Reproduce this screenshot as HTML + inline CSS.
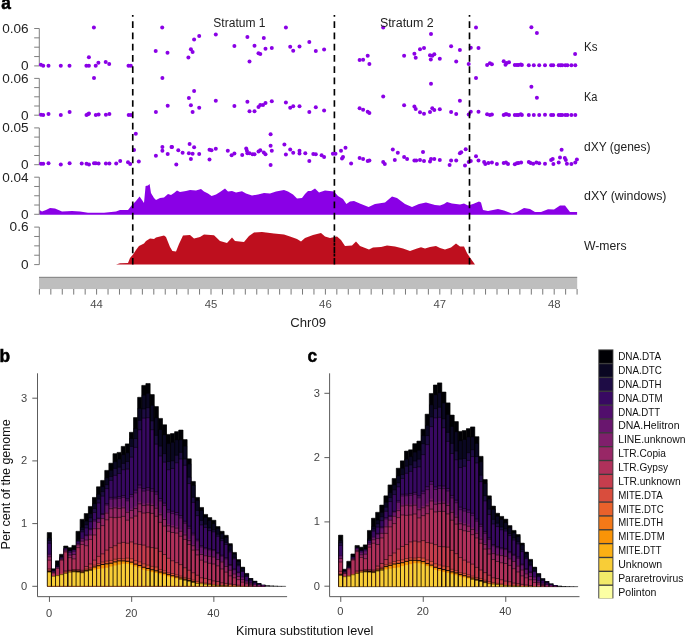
<!DOCTYPE html>
<html><head><meta charset="utf-8"><title>Figure</title>
<style>
html,body{margin:0;padding:0;background:#fff;}
body{width:685px;height:636px;overflow:hidden;}
svg{display:block;}
text{font-family:"Liberation Sans",sans-serif;}
svg{will-change:transform;}
</style></head><body>
<svg width="685" height="636" viewBox="0 0 685 636">
<rect width="685" height="636" fill="#fff"/>
<text x="1.2" y="9.3" font-size="17.5" text-anchor="start" fill="#000" font-weight="bold" textLength="9.6" lengthAdjust="spacingAndGlyphs" stroke="#000" stroke-width="0.5">a</text>
<path d="M39.4,214.7L39.4,210L42,211.6L46,210L50,208L55,208.4L62,211.6L72,211L80,211.4L88,212.8L104,212.8L116,211.4L120,210L128,210L132,205L136,201L139.6,196.4L142,200L144,203L145.6,186L148,185.6L149.6,184L151,193L154,198L156,200L160,198L164,197.6L168,194L171,195L174,193L177,190.4L180,192L186,191L190,190L196,190.4L201,189L204,191.6L208,193.6L211.6,196L216,194.4L220,192L225,188.4L228,191.6L232,191L236,192.6L242,191.2L246,193.6L252,195.6L258,194.4L264,193L270,193.6L276,191.6L284,190L288,191.6L293,194.4L297,198.6L302,198L305,194L308,191L311,191L315,188.4L319,192.4L325,190.4L334,191.4L338,196L343,199L346.4,204L350,201.6L354,201L361,204L368.6,207L375,204L385,202.6L392,196.4L397,198L405,204L412,207L419,204L426,202.4L435,205L440,205.6L444,204L447,202L452,203.6L460,204.4L464,203.4L468,205.6L473,204L479,201.6L481,202.4L483,210L488,211L498,209L504,210.4L512,213.6L517,212L524,208L530,209L535,212L541,212L548,209.2L554,209.6L560,205.4L565,205.4L570,212L577.1,212L577.1,214.7Z" fill="#8a00e6"/>
<path d="M116,264.6L116,264.4L120,263.2L128,263L130,258L133,254.4L136,250L139,246L144,243.6L146,241L150,238.6L154,239L156,237.6L160,236.4L164,235.4L166,237L168,242L170,247L172.4,251L176,251.4L179,244L183,235.6L190,235L194,238.4L200,237L204,234.4L214,235.2L220,241L227,243L232,237.6L235,241L244,242L249,236L254,232.4L262,232L274,233.6L284,234.4L290,236.4L297,239L301,241.4L305,238L313,235L321,233L325,236.4L330,238L337,236.4L341,240L345,246L352,245.4L356,241.6L360,246L369,249.6L373,247.6L381,247L387,245.4L395,246.4L403,248.4L410,251L417,248.4L421,247.2L425,248.6L430,247L436,246L440,248L445,249.6L451,247.6L456,243.6L460,246.4L464,246.4L467,253L470,257.6L475,264.4L475,264.6Z" fill="#be0f1e"/>
<path d="M39.3,28.5V65.9M34.2,28.50H39.3M34.2,37.85H39.3M34.2,47.20H39.3M34.2,56.55H39.3M34.2,65.90H39.3" stroke="#787878" stroke-width="0.95" fill="none"/>
<text x="28.6" y="32.8" font-size="12" text-anchor="end" fill="#222" textLength="26.4" lengthAdjust="spacingAndGlyphs">0.06</text>
<text x="28.6" y="70.2" font-size="12" text-anchor="end" fill="#222" textLength="7.6" lengthAdjust="spacingAndGlyphs">0</text>
<path d="M39.3,78.4V115.2M34.2,78.40H39.3M34.2,87.60H39.3M34.2,96.80H39.3M34.2,106.00H39.3M34.2,115.20H39.3" stroke="#787878" stroke-width="0.95" fill="none"/>
<text x="28.6" y="82.7" font-size="12" text-anchor="end" fill="#222" textLength="26.4" lengthAdjust="spacingAndGlyphs">0.06</text>
<text x="28.6" y="119.5" font-size="12" text-anchor="end" fill="#222" textLength="7.6" lengthAdjust="spacingAndGlyphs">0</text>
<path d="M39.3,127.9V164.7M34.2,127.90H39.3M34.2,137.10H39.3M34.2,146.30H39.3M34.2,155.50H39.3M34.2,164.70H39.3" stroke="#787878" stroke-width="0.95" fill="none"/>
<text x="28.6" y="132.20000000000002" font-size="12" text-anchor="end" fill="#222" textLength="26.4" lengthAdjust="spacingAndGlyphs">0.05</text>
<text x="28.6" y="169.0" font-size="12" text-anchor="end" fill="#222" textLength="7.6" lengthAdjust="spacingAndGlyphs">0</text>
<path d="M39.3,177.2V214.3M34.2,177.20H39.3M34.2,186.47H39.3M34.2,195.75H39.3M34.2,205.03H39.3M34.2,214.30H39.3" stroke="#787878" stroke-width="0.95" fill="none"/>
<text x="28.6" y="181.5" font-size="12" text-anchor="end" fill="#222" textLength="26.4" lengthAdjust="spacingAndGlyphs">0.04</text>
<text x="28.6" y="218.60000000000002" font-size="12" text-anchor="end" fill="#222" textLength="7.6" lengthAdjust="spacingAndGlyphs">0</text>
<path d="M39.3,227.1V264.6M34.2,227.10H39.3M34.2,236.47H39.3M34.2,245.85H39.3M34.2,255.23H39.3M34.2,264.60H39.3" stroke="#787878" stroke-width="0.95" fill="none"/>
<text x="28.6" y="231.4" font-size="12" text-anchor="end" fill="#222" textLength="19" lengthAdjust="spacingAndGlyphs">0.6</text>
<text x="28.6" y="268.90000000000003" font-size="12" text-anchor="end" fill="#222" textLength="7.6" lengthAdjust="spacingAndGlyphs">0</text>
<g fill="#8a00e6"><circle cx="40.9" cy="64.8" r="2"/><circle cx="43.2" cy="65.8" r="2"/><circle cx="48.5" cy="65.8" r="2"/><circle cx="60.8" cy="65.8" r="2"/><circle cx="69.5" cy="65.8" r="2"/><circle cx="86.4" cy="65.8" r="2"/><circle cx="88.9" cy="65.8" r="2"/><circle cx="88.9" cy="57.2" r="2"/><circle cx="93.9" cy="27.6" r="2"/><circle cx="95.7" cy="65.8" r="2"/><circle cx="98.4" cy="62.8" r="2"/><circle cx="105.7" cy="62" r="2"/><circle cx="109.2" cy="64" r="2"/><circle cx="128.5" cy="65.8" r="2"/><circle cx="130.8" cy="65.8" r="2"/><circle cx="155.7" cy="51" r="2"/><circle cx="162.2" cy="27.6" r="2"/><circle cx="167.5" cy="52.7" r="2"/><circle cx="188.4" cy="57.5" r="2"/><circle cx="190.9" cy="49.2" r="2"/><circle cx="192.6" cy="52" r="2"/><circle cx="194.1" cy="39.4" r="2"/><circle cx="199.2" cy="35.9" r="2"/><circle cx="215.8" cy="34.6" r="2"/><circle cx="234.4" cy="46" r="2"/><circle cx="247.4" cy="36.9" r="2"/><circle cx="249.5" cy="61.5" r="2"/><circle cx="254.5" cy="45.7" r="2"/><circle cx="258.5" cy="53.2" r="2"/><circle cx="260.3" cy="54" r="2"/><circle cx="263.8" cy="37.9" r="2"/><circle cx="265.5" cy="48.7" r="2"/><circle cx="271.8" cy="48" r="2"/><circle cx="285.9" cy="27.6" r="2"/><circle cx="290.2" cy="46.7" r="2"/><circle cx="293.2" cy="50.7" r="2"/><circle cx="299.5" cy="46.5" r="2"/><circle cx="309.3" cy="41.9" r="2"/><circle cx="315.8" cy="51" r="2"/><circle cx="324.1" cy="49.5" r="2"/><circle cx="359.6" cy="60" r="2"/><circle cx="363.1" cy="59.8" r="2"/><circle cx="367.7" cy="55.8" r="2"/><circle cx="369.4" cy="64.1" r="2"/><circle cx="383.2" cy="27.6" r="2"/><circle cx="404.1" cy="55.8" r="2"/><circle cx="414.4" cy="53.8" r="2"/><circle cx="415.7" cy="57.8" r="2"/><circle cx="420" cy="49.2" r="2"/><circle cx="424" cy="48" r="2"/><circle cx="430" cy="55.3" r="2"/><circle cx="430.8" cy="59.5" r="2"/><circle cx="431" cy="33.9" r="2"/><circle cx="432.3" cy="55.8" r="2"/><circle cx="434.3" cy="54.3" r="2"/><circle cx="439.8" cy="58.8" r="2"/><circle cx="451.1" cy="46.2" r="2"/><circle cx="456.2" cy="61.5" r="2"/><circle cx="459.9" cy="50" r="2"/><circle cx="468.7" cy="64.1" r="2"/><circle cx="470.8" cy="47.7" r="2"/><circle cx="476" cy="27.6" r="2"/><circle cx="478.5" cy="48" r="2"/><circle cx="487.1" cy="65.1" r="2"/><circle cx="489.9" cy="63.3" r="2"/><circle cx="491.9" cy="64.3" r="2"/><circle cx="503.7" cy="61.3" r="2"/><circle cx="505.5" cy="64.8" r="2"/><circle cx="506.7" cy="63.1" r="2"/><circle cx="509" cy="62.3" r="2"/><circle cx="514.8" cy="65.1" r="2"/><circle cx="516.9" cy="65.1" r="2"/><circle cx="518.5" cy="65.1" r="2"/><circle cx="520.8" cy="64.4" r="2"/><circle cx="521.9" cy="65.1" r="2"/><circle cx="528.8" cy="65.2" r="2"/><circle cx="533.8" cy="65.2" r="2"/><circle cx="539.2" cy="65.2" r="2"/><circle cx="545" cy="65.2" r="2"/><circle cx="551.1" cy="65.2" r="2"/><circle cx="553.2" cy="65.2" r="2"/><circle cx="558.7" cy="65.2" r="2"/><circle cx="560.6" cy="65.2" r="2"/><circle cx="562.2" cy="65.2" r="2"/><circle cx="565.3" cy="65.2" r="2"/><circle cx="567.4" cy="65.2" r="2"/><circle cx="571.4" cy="65.2" r="2"/><circle cx="575.3" cy="65.2" r="2"/><circle cx="531.4" cy="27.3" r="2"/><circle cx="536.9" cy="32.9" r="2"/><circle cx="575.1" cy="54" r="2"/><circle cx="41.0" cy="114.8" r="2"/><circle cx="43.2" cy="115.1" r="2"/><circle cx="48.5" cy="114.1" r="2"/><circle cx="60.8" cy="115.1" r="2"/><circle cx="69.6" cy="112.0" r="2"/><circle cx="86.5" cy="115.1" r="2"/><circle cx="88" cy="114.3" r="2"/><circle cx="89" cy="113.6" r="2"/><circle cx="94" cy="77.9" r="2"/><circle cx="95.8" cy="115.1" r="2"/><circle cx="98.6" cy="114.6" r="2"/><circle cx="105.9" cy="114.8" r="2"/><circle cx="109.4" cy="114.1" r="2"/><circle cx="128.7" cy="115.1" r="2"/><circle cx="131" cy="115.1" r="2"/><circle cx="155.9" cy="112.0" r="2"/><circle cx="162.4" cy="77.9" r="2"/><circle cx="167.7" cy="105.8" r="2"/><circle cx="194.1" cy="91" r="2"/><circle cx="188.9" cy="98" r="2"/><circle cx="190.9" cy="105.3" r="2"/><circle cx="192.6" cy="112.1" r="2"/><circle cx="199.2" cy="107.8" r="2"/><circle cx="215.8" cy="100.8" r="2"/><circle cx="234.4" cy="106.1" r="2"/><circle cx="247.4" cy="101.8" r="2"/><circle cx="249.5" cy="111.3" r="2"/><circle cx="254.5" cy="111.3" r="2"/><circle cx="258.5" cy="107.1" r="2"/><circle cx="260.3" cy="105" r="2"/><circle cx="263" cy="105" r="2"/><circle cx="265.5" cy="103" r="2"/><circle cx="271.8" cy="101.3" r="2"/><circle cx="285.9" cy="102.5" r="2"/><circle cx="290.2" cy="107.8" r="2"/><circle cx="293.2" cy="106.3" r="2"/><circle cx="299.5" cy="106.3" r="2"/><circle cx="309.3" cy="112.1" r="2"/><circle cx="315.8" cy="107.3" r="2"/><circle cx="324.1" cy="110.6" r="2"/><circle cx="359.6" cy="108.3" r="2"/><circle cx="363.1" cy="109.8" r="2"/><circle cx="367.7" cy="111.8" r="2"/><circle cx="369.4" cy="113.1" r="2"/><circle cx="383.2" cy="96.5" r="2"/><circle cx="404.1" cy="105.3" r="2"/><circle cx="414.4" cy="106.6" r="2"/><circle cx="415.7" cy="109.1" r="2"/><circle cx="420" cy="112.3" r="2"/><circle cx="424" cy="113.8" r="2"/><circle cx="430" cy="112.1" r="2"/><circle cx="431" cy="83.7" r="2"/><circle cx="432.3" cy="108.3" r="2"/><circle cx="434.3" cy="110.1" r="2"/><circle cx="439.8" cy="109.3" r="2"/><circle cx="451.1" cy="112.1" r="2"/><circle cx="456.2" cy="114.1" r="2"/><circle cx="459.9" cy="100.8" r="2"/><circle cx="468.7" cy="114.6" r="2"/><circle cx="470.8" cy="111.8" r="2"/><circle cx="476" cy="77.9" r="2"/><circle cx="478.5" cy="111.8" r="2"/><circle cx="487.1" cy="114.3" r="2"/><circle cx="489.9" cy="114.9" r="2"/><circle cx="491.9" cy="114.6" r="2"/><circle cx="503.7" cy="114.9" r="2"/><circle cx="505.5" cy="114.3" r="2"/><circle cx="506.7" cy="114.3" r="2"/><circle cx="509" cy="114.9" r="2"/><circle cx="514.8" cy="115.1" r="2"/><circle cx="516.9" cy="115.1" r="2"/><circle cx="518.5" cy="115.1" r="2"/><circle cx="520.8" cy="114.2" r="2"/><circle cx="521.9" cy="115.1" r="2"/><circle cx="528.8" cy="115.1" r="2"/><circle cx="533.8" cy="115.1" r="2"/><circle cx="539.2" cy="115.1" r="2"/><circle cx="545" cy="114.7" r="2"/><circle cx="551.1" cy="115.1" r="2"/><circle cx="553.2" cy="115.1" r="2"/><circle cx="558.7" cy="115.1" r="2"/><circle cx="560.6" cy="115.1" r="2"/><circle cx="562.2" cy="115.1" r="2"/><circle cx="565.3" cy="115.1" r="2"/><circle cx="567.4" cy="115.1" r="2"/><circle cx="571.4" cy="115.1" r="2"/><circle cx="575.3" cy="115.1" r="2"/><circle cx="531.4" cy="86.7" r="2"/><circle cx="536.9" cy="97.8" r="2"/><circle cx="41" cy="163.8" r="2"/><circle cx="43.2" cy="163.8" r="2"/><circle cx="48.5" cy="163.3" r="2"/><circle cx="60.8" cy="164.6" r="2"/><circle cx="69.6" cy="163.3" r="2"/><circle cx="81.7" cy="163.6" r="2"/><circle cx="86.5" cy="163.8" r="2"/><circle cx="89" cy="164.6" r="2"/><circle cx="94" cy="163.3" r="2"/><circle cx="95.8" cy="163.3" r="2"/><circle cx="98.6" cy="163.6" r="2"/><circle cx="105.9" cy="163.6" r="2"/><circle cx="109.4" cy="163.6" r="2"/><circle cx="116.2" cy="163.6" r="2"/><circle cx="120.2" cy="161.1" r="2"/><circle cx="128" cy="162.3" r="2"/><circle cx="130.2" cy="164.1" r="2"/><circle cx="134" cy="150" r="2"/><circle cx="135.8" cy="133.7" r="2"/><circle cx="138.8" cy="161.6" r="2"/><circle cx="155.9" cy="155.8" r="2"/><circle cx="162.4" cy="147" r="2"/><circle cx="162.4" cy="150.8" r="2"/><circle cx="167.7" cy="154" r="2"/><circle cx="171.5" cy="147" r="2"/><circle cx="172" cy="147" r="2"/><circle cx="176.3" cy="164.6" r="2"/><circle cx="178.3" cy="150.3" r="2"/><circle cx="182.6" cy="152.8" r="2"/><circle cx="188.9" cy="153.3" r="2"/><circle cx="189.6" cy="144" r="2"/><circle cx="190.9" cy="158.9" r="2"/><circle cx="192.6" cy="153.8" r="2"/><circle cx="194.1" cy="147.3" r="2"/><circle cx="199.2" cy="154.1" r="2"/><circle cx="209.5" cy="159.6" r="2"/><circle cx="209.5" cy="149.8" r="2"/><circle cx="211.5" cy="150.3" r="2"/><circle cx="215.8" cy="148.8" r="2"/><circle cx="227.8" cy="150.8" r="2"/><circle cx="231.6" cy="155.3" r="2"/><circle cx="234.4" cy="153.6" r="2"/><circle cx="242.2" cy="155.1" r="2"/><circle cx="246.2" cy="148.5" r="2"/><circle cx="246.9" cy="150.8" r="2"/><circle cx="247.4" cy="153.3" r="2"/><circle cx="249.5" cy="153.3" r="2"/><circle cx="252.5" cy="154.3" r="2"/><circle cx="254.5" cy="154.3" r="2"/><circle cx="258.5" cy="151.6" r="2"/><circle cx="260.3" cy="150.3" r="2"/><circle cx="263.8" cy="152.6" r="2"/><circle cx="265.5" cy="154.3" r="2"/><circle cx="270.6" cy="134.2" r="2"/><circle cx="270.6" cy="145.8" r="2"/><circle cx="271.8" cy="150.8" r="2"/><circle cx="270.6" cy="164.9" r="2"/><circle cx="284.4" cy="144.5" r="2"/><circle cx="285.9" cy="154.6" r="2"/><circle cx="290.2" cy="149.6" r="2"/><circle cx="293.2" cy="152.8" r="2"/><circle cx="299.5" cy="150.8" r="2"/><circle cx="299.5" cy="153.6" r="2"/><circle cx="305.3" cy="153.3" r="2"/><circle cx="309.3" cy="161.1" r="2"/><circle cx="313.3" cy="154.1" r="2"/><circle cx="315.8" cy="154.3" r="2"/><circle cx="321.6" cy="155.3" r="2"/><circle cx="324.1" cy="157.1" r="2"/><circle cx="332.9" cy="153.8" r="2"/><circle cx="335.5" cy="153.8" r="2"/><circle cx="341" cy="150.8" r="2"/><circle cx="342" cy="158.6" r="2"/><circle cx="345.5" cy="147.8" r="2"/><circle cx="343" cy="157.1" r="2"/><circle cx="351.1" cy="163.6" r="2"/><circle cx="359.6" cy="158.1" r="2"/><circle cx="363.1" cy="159.1" r="2"/><circle cx="367.7" cy="160.9" r="2"/><circle cx="369.4" cy="160.4" r="2"/><circle cx="383.2" cy="161.9" r="2"/><circle cx="384.8" cy="164.1" r="2"/><circle cx="392.8" cy="149.6" r="2"/><circle cx="394.8" cy="160.1" r="2"/><circle cx="397.8" cy="152.8" r="2"/><circle cx="404.1" cy="157.1" r="2"/><circle cx="407.1" cy="159.1" r="2"/><circle cx="414.4" cy="160.4" r="2"/><circle cx="416.2" cy="160.4" r="2"/><circle cx="420" cy="159.9" r="2"/><circle cx="423" cy="152.1" r="2"/><circle cx="424" cy="160.9" r="2"/><circle cx="430" cy="161.6" r="2"/><circle cx="431" cy="158.9" r="2"/><circle cx="434.3" cy="159.1" r="2"/><circle cx="439.8" cy="160.1" r="2"/><circle cx="449.6" cy="165.1" r="2"/><circle cx="451.1" cy="160.4" r="2"/><circle cx="456.2" cy="160.4" r="2"/><circle cx="459.9" cy="153.3" r="2"/><circle cx="461.2" cy="152.3" r="2"/><circle cx="465.7" cy="149.3" r="2"/><circle cx="465" cy="165.4" r="2"/><circle cx="468.7" cy="162.1" r="2"/><circle cx="470.8" cy="160.9" r="2"/><circle cx="476" cy="156.3" r="2"/><circle cx="478.5" cy="160.4" r="2"/><circle cx="484.1" cy="162.1" r="2"/><circle cx="485.3" cy="163.9" r="2"/><circle cx="488.4" cy="162.9" r="2"/><circle cx="491.9" cy="162.6" r="2"/><circle cx="496.9" cy="163.9" r="2"/><circle cx="503.7" cy="162.9" r="2"/><circle cx="506" cy="162.4" r="2"/><circle cx="508" cy="164.1" r="2"/><circle cx="514.8" cy="164.2" r="2"/><circle cx="516.9" cy="163.3" r="2"/><circle cx="518.5" cy="163.1" r="2"/><circle cx="521.1" cy="162.4" r="2"/><circle cx="528.8" cy="162.1" r="2"/><circle cx="530.6" cy="162.9" r="2"/><circle cx="533.2" cy="163.7" r="2"/><circle cx="536.4" cy="162.6" r="2"/><circle cx="539.2" cy="163.3" r="2"/><circle cx="545" cy="163.7" r="2"/><circle cx="551.1" cy="160" r="2"/><circle cx="552.7" cy="158.9" r="2"/><circle cx="553.4" cy="164" r="2"/><circle cx="558.7" cy="162.6" r="2"/><circle cx="560" cy="157.4" r="2"/><circle cx="561.6" cy="149.7" r="2"/><circle cx="564.8" cy="157.9" r="2"/><circle cx="565.8" cy="160" r="2"/><circle cx="566.9" cy="163.7" r="2"/><circle cx="571.4" cy="164" r="2"/><circle cx="575.3" cy="162.6" r="2"/><circle cx="576.9" cy="159.5" r="2"/></g>
<line x1="132.75" y1="15" x2="132.75" y2="264.6" stroke="#000" stroke-width="1.65" stroke-dasharray="6.7 4.57" stroke-dashoffset="5.0"/>
<line x1="334.4" y1="15" x2="334.4" y2="264.6" stroke="#000" stroke-width="1.65" stroke-dasharray="6.7 4.57" stroke-dashoffset="5.0"/>
<line x1="469.5" y1="15" x2="469.5" y2="264.6" stroke="#000" stroke-width="1.65" stroke-dasharray="6.7 4.57" stroke-dashoffset="5.0"/>
<path d="M334.4,242.4V245.8M334.4,253.7V256.4" stroke="#000" stroke-width="1.65" fill="none"/>
<text x="213.3" y="27.3" font-size="12" text-anchor="start" fill="#222" textLength="52.2" lengthAdjust="spacingAndGlyphs">Stratum 1</text>
<text x="379.9" y="27.3" font-size="12" text-anchor="start" fill="#222" textLength="53.8" lengthAdjust="spacingAndGlyphs">Stratum 2</text>
<text x="584" y="51.0" font-size="12" text-anchor="start" fill="#222" textLength="13.5" lengthAdjust="spacingAndGlyphs">Ks</text>
<text x="584" y="101.0" font-size="12" text-anchor="start" fill="#222" textLength="13.5" lengthAdjust="spacingAndGlyphs">Ka</text>
<text x="584" y="150.60000000000002" font-size="12" text-anchor="start" fill="#222" textLength="66.5" lengthAdjust="spacingAndGlyphs">dXY (genes)</text>
<text x="584" y="200.0" font-size="12" text-anchor="start" fill="#222" textLength="82.5" lengthAdjust="spacingAndGlyphs">dXY (windows)</text>
<text x="584" y="250.0" font-size="12" text-anchor="start" fill="#222" textLength="42.5" lengthAdjust="spacingAndGlyphs">W-mers</text>
<rect x="39" y="277.3" width="538.2" height="11.8" fill="#bebebe"/>
<path d="M39,277.3H577.2" stroke="#666" stroke-width="0.8" fill="none"/>
<path d="M39.40,289V294.6M50.84,289V294.6M62.28,289V294.6M73.72,289V294.6M85.16,289V294.6M96.60,289V294.6M108.04,289V294.6M119.48,289V294.6M130.92,289V294.6M142.36,289V294.6M153.80,289V294.6M165.24,289V294.6M176.68,289V294.6M188.12,289V294.6M199.56,289V294.6M211.00,289V294.6M222.44,289V294.6M233.88,289V294.6M245.32,289V294.6M256.76,289V294.6M268.20,289V294.6M279.64,289V294.6M291.08,289V294.6M302.52,289V294.6M313.96,289V294.6M325.40,289V294.6M336.84,289V294.6M348.28,289V294.6M359.72,289V294.6M371.16,289V294.6M382.60,289V294.6M394.04,289V294.6M405.48,289V294.6M416.92,289V294.6M428.36,289V294.6M439.80,289V294.6M451.24,289V294.6M462.68,289V294.6M474.12,289V294.6M485.56,289V294.6M497.00,289V294.6M508.44,289V294.6M519.88,289V294.6M531.32,289V294.6M542.76,289V294.6M554.20,289V294.6M565.64,289V294.6M577.08,289V294.6" stroke="#555" stroke-width="0.8" fill="none"/>
<text x="96.6" y="308.3" font-size="10.5" text-anchor="middle" fill="#4d4d4d" textLength="12.6" lengthAdjust="spacingAndGlyphs">44</text>
<text x="211.0" y="308.3" font-size="10.5" text-anchor="middle" fill="#4d4d4d" textLength="12.6" lengthAdjust="spacingAndGlyphs">45</text>
<text x="325.4" y="308.3" font-size="10.5" text-anchor="middle" fill="#4d4d4d" textLength="12.6" lengthAdjust="spacingAndGlyphs">46</text>
<text x="439.80000000000007" y="308.3" font-size="10.5" text-anchor="middle" fill="#4d4d4d" textLength="12.6" lengthAdjust="spacingAndGlyphs">47</text>
<text x="554.2" y="308.3" font-size="10.5" text-anchor="middle" fill="#4d4d4d" textLength="12.6" lengthAdjust="spacingAndGlyphs">48</text>
<text x="290.3" y="327.3" font-size="12.5" text-anchor="start" fill="#222" textLength="35.7" lengthAdjust="spacingAndGlyphs">Chr09</text>
<g><rect x="47.30" y="532.50" width="4.17" height="53.80" fill="#000004"/><rect x="47.30" y="538.02" width="4.17" height="48.28" fill="#0a0722"/><rect x="47.30" y="540.53" width="4.17" height="45.77" fill="#1e0c45"/><rect x="47.30" y="543.23" width="4.17" height="43.07" fill="#380962"/><rect x="47.30" y="553.88" width="4.17" height="32.42" fill="#510e6c"/><rect x="47.30" y="554.33" width="4.17" height="31.97" fill="#69166e"/><rect x="47.30" y="556.48" width="4.17" height="29.82" fill="#801f6c"/><rect x="47.30" y="556.83" width="4.17" height="29.47" fill="#982766"/><rect x="47.30" y="560.15" width="4.17" height="26.15" fill="#b0315b"/><rect x="47.30" y="568.99" width="4.17" height="17.31" fill="#c63d4d"/><rect x="47.30" y="570.71" width="4.17" height="15.59" fill="#e2573c"/><rect x="47.30" y="571.40" width="4.17" height="14.90" fill="#fa9709"/><rect x="47.30" y="572.13" width="4.17" height="14.17" fill="#f8cd37"/><rect x="51.41" y="568.74" width="4.17" height="17.56" fill="#000004"/><rect x="51.41" y="569.87" width="4.17" height="16.43" fill="#0a0722"/><rect x="51.41" y="570.50" width="4.17" height="15.80" fill="#1e0c45"/><rect x="51.41" y="570.94" width="4.17" height="15.36" fill="#380962"/><rect x="51.41" y="571.57" width="4.17" height="14.73" fill="#510e6c"/><rect x="51.41" y="571.66" width="4.17" height="14.64" fill="#69166e"/><rect x="51.41" y="572.12" width="4.17" height="14.18" fill="#801f6c"/><rect x="51.41" y="572.19" width="4.17" height="14.11" fill="#982766"/><rect x="51.41" y="573.01" width="4.17" height="13.29" fill="#b0315b"/><rect x="51.41" y="575.64" width="4.17" height="10.66" fill="#c63d4d"/><rect x="51.41" y="575.82" width="4.17" height="10.48" fill="#e2573c"/><rect x="51.41" y="576.00" width="4.17" height="10.30" fill="#fa9709"/><rect x="51.41" y="576.27" width="4.17" height="10.03" fill="#f8cd37"/><rect x="55.52" y="560.78" width="4.17" height="25.52" fill="#000004"/><rect x="55.52" y="564.98" width="4.17" height="21.32" fill="#0a0722"/><rect x="55.52" y="566.24" width="4.17" height="20.06" fill="#1e0c45"/><rect x="55.52" y="566.86" width="4.17" height="19.44" fill="#380962"/><rect x="55.52" y="567.49" width="4.17" height="18.81" fill="#510e6c"/><rect x="55.52" y="567.54" width="4.17" height="18.76" fill="#69166e"/><rect x="55.52" y="567.77" width="4.17" height="18.53" fill="#801f6c"/><rect x="55.52" y="567.80" width="4.17" height="18.50" fill="#982766"/><rect x="55.52" y="568.37" width="4.17" height="17.93" fill="#b0315b"/><rect x="55.52" y="575.01" width="4.17" height="11.29" fill="#c63d4d"/><rect x="55.52" y="575.19" width="4.17" height="11.11" fill="#e2573c"/><rect x="55.52" y="575.37" width="4.17" height="10.93" fill="#fa9709"/><rect x="55.52" y="575.64" width="4.17" height="10.66" fill="#f8cd37"/><rect x="59.63" y="554.26" width="4.17" height="32.04" fill="#000004"/><rect x="59.63" y="556.83" width="4.17" height="29.47" fill="#0a0722"/><rect x="59.63" y="557.46" width="4.17" height="28.84" fill="#1e0c45"/><rect x="59.63" y="557.77" width="4.17" height="28.53" fill="#380962"/><rect x="59.63" y="558.27" width="4.17" height="28.03" fill="#510e6c"/><rect x="59.63" y="558.43" width="4.17" height="27.87" fill="#69166e"/><rect x="59.63" y="559.21" width="4.17" height="27.09" fill="#801f6c"/><rect x="59.63" y="559.34" width="4.17" height="26.96" fill="#982766"/><rect x="59.63" y="560.15" width="4.17" height="26.15" fill="#b0315b"/><rect x="59.63" y="573.38" width="4.17" height="12.92" fill="#c63d4d"/><rect x="59.63" y="573.90" width="4.17" height="12.40" fill="#e2573c"/><rect x="59.63" y="574.27" width="4.17" height="12.03" fill="#fa9709"/><rect x="59.63" y="574.64" width="4.17" height="11.66" fill="#f8cd37"/><rect x="63.74" y="545.98" width="4.17" height="40.32" fill="#000004"/><rect x="63.74" y="548.05" width="4.17" height="38.25" fill="#0a0722"/><rect x="63.74" y="548.37" width="4.17" height="37.93" fill="#1e0c45"/><rect x="63.74" y="548.68" width="4.17" height="37.62" fill="#380962"/><rect x="63.74" y="549.12" width="4.17" height="37.18" fill="#510e6c"/><rect x="63.74" y="549.38" width="4.17" height="36.92" fill="#69166e"/><rect x="63.74" y="550.66" width="4.17" height="35.64" fill="#801f6c"/><rect x="63.74" y="550.87" width="4.17" height="35.43" fill="#982766"/><rect x="63.74" y="552.00" width="4.17" height="34.30" fill="#b0315b"/><rect x="63.74" y="570.88" width="4.17" height="15.42" fill="#c63d4d"/><rect x="63.74" y="572.09" width="4.17" height="14.21" fill="#e2573c"/><rect x="63.74" y="572.84" width="4.17" height="13.46" fill="#fa9709"/><rect x="63.74" y="573.38" width="4.17" height="12.92" fill="#f8cd37"/><rect x="67.85" y="547.61" width="4.17" height="38.69" fill="#000004"/><rect x="67.85" y="550.56" width="4.17" height="35.74" fill="#0a0722"/><rect x="67.85" y="551.19" width="4.17" height="35.11" fill="#1e0c45"/><rect x="67.85" y="551.50" width="4.17" height="34.80" fill="#380962"/><rect x="67.85" y="552.00" width="4.17" height="34.30" fill="#510e6c"/><rect x="67.85" y="552.47" width="4.17" height="33.83" fill="#69166e"/><rect x="67.85" y="554.76" width="4.17" height="31.54" fill="#801f6c"/><rect x="67.85" y="555.14" width="4.17" height="31.16" fill="#982766"/><rect x="67.85" y="557.65" width="4.17" height="28.65" fill="#b0315b"/><rect x="67.85" y="570.25" width="4.17" height="16.05" fill="#c63d4d"/><rect x="67.85" y="570.96" width="4.17" height="15.34" fill="#e2573c"/><rect x="67.85" y="571.58" width="4.17" height="14.72" fill="#fa9709"/><rect x="67.85" y="572.13" width="4.17" height="14.17" fill="#f8cd37"/><rect x="71.96" y="545.36" width="4.17" height="40.94" fill="#000004"/><rect x="71.96" y="549.31" width="4.17" height="36.99" fill="#0a0722"/><rect x="71.96" y="549.93" width="4.17" height="36.37" fill="#1e0c45"/><rect x="71.96" y="550.25" width="4.17" height="36.05" fill="#380962"/><rect x="71.96" y="550.75" width="4.17" height="35.55" fill="#510e6c"/><rect x="71.96" y="551.31" width="4.17" height="34.99" fill="#69166e"/><rect x="71.96" y="554.06" width="4.17" height="32.24" fill="#801f6c"/><rect x="71.96" y="554.51" width="4.17" height="31.79" fill="#982766"/><rect x="71.96" y="558.90" width="4.17" height="27.40" fill="#b0315b"/><rect x="71.96" y="569.62" width="4.17" height="16.68" fill="#c63d4d"/><rect x="71.96" y="570.40" width="4.17" height="15.90" fill="#e2573c"/><rect x="71.96" y="571.15" width="4.17" height="15.15" fill="#fa9709"/><rect x="71.96" y="571.88" width="4.17" height="14.42" fill="#f8cd37"/><rect x="76.07" y="531.25" width="4.17" height="55.05" fill="#000004"/><rect x="76.07" y="539.40" width="4.17" height="46.90" fill="#0a0722"/><rect x="76.07" y="540.53" width="4.17" height="45.77" fill="#1e0c45"/><rect x="76.07" y="541.16" width="4.17" height="45.14" fill="#380962"/><rect x="76.07" y="543.23" width="4.17" height="43.07" fill="#510e6c"/><rect x="76.07" y="543.48" width="4.17" height="42.82" fill="#69166e"/><rect x="76.07" y="544.71" width="4.17" height="41.59" fill="#801f6c"/><rect x="76.07" y="544.92" width="4.17" height="41.38" fill="#982766"/><rect x="76.07" y="547.61" width="4.17" height="38.69" fill="#b0315b"/><rect x="76.07" y="569.62" width="4.17" height="16.68" fill="#c63d4d"/><rect x="76.07" y="570.52" width="4.17" height="15.78" fill="#e2573c"/><rect x="76.07" y="571.40" width="4.17" height="14.90" fill="#fa9709"/><rect x="76.07" y="572.13" width="4.17" height="14.17" fill="#f8cd37"/><rect x="80.18" y="519.27" width="4.17" height="67.03" fill="#000004"/><rect x="80.18" y="527.36" width="4.17" height="58.94" fill="#0a0722"/><rect x="80.18" y="529.87" width="4.17" height="56.43" fill="#1e0c45"/><rect x="80.18" y="531.88" width="4.17" height="54.42" fill="#380962"/><rect x="80.18" y="538.15" width="4.17" height="48.15" fill="#510e6c"/><rect x="80.18" y="538.60" width="4.17" height="47.70" fill="#69166e"/><rect x="80.18" y="540.79" width="4.17" height="45.51" fill="#801f6c"/><rect x="80.18" y="541.16" width="4.17" height="45.14" fill="#982766"/><rect x="80.18" y="544.48" width="4.17" height="41.82" fill="#b0315b"/><rect x="80.18" y="570.25" width="4.17" height="16.05" fill="#c63d4d"/><rect x="80.18" y="571.15" width="4.17" height="15.15" fill="#e2573c"/><rect x="80.18" y="572.03" width="4.17" height="14.27" fill="#fa9709"/><rect x="80.18" y="572.76" width="4.17" height="13.54" fill="#f8cd37"/><rect x="84.29" y="513.51" width="4.17" height="72.79" fill="#000004"/><rect x="84.29" y="521.09" width="4.17" height="65.21" fill="#0a0722"/><rect x="84.29" y="524.85" width="4.17" height="61.45" fill="#1e0c45"/><rect x="84.29" y="527.99" width="4.17" height="58.31" fill="#380962"/><rect x="84.29" y="535.01" width="4.17" height="51.29" fill="#510e6c"/><rect x="84.29" y="535.76" width="4.17" height="50.54" fill="#69166e"/><rect x="84.29" y="539.43" width="4.17" height="46.87" fill="#801f6c"/><rect x="84.29" y="540.03" width="4.17" height="46.27" fill="#982766"/><rect x="84.29" y="545.73" width="4.17" height="40.57" fill="#b0315b"/><rect x="84.29" y="566.49" width="4.17" height="19.81" fill="#c63d4d"/><rect x="84.29" y="569.09" width="4.17" height="17.21" fill="#e2573c"/><rect x="84.29" y="570.34" width="4.17" height="15.96" fill="#fa9709"/><rect x="84.29" y="571.25" width="4.17" height="15.05" fill="#f8cd37"/><rect x="88.40" y="506.42" width="4.17" height="79.88" fill="#000004"/><rect x="88.40" y="513.57" width="4.17" height="72.73" fill="#0a0722"/><rect x="88.40" y="517.96" width="4.17" height="68.34" fill="#1e0c45"/><rect x="88.40" y="521.72" width="4.17" height="64.58" fill="#380962"/><rect x="88.40" y="528.74" width="4.17" height="57.56" fill="#510e6c"/><rect x="88.40" y="529.68" width="4.17" height="56.62" fill="#69166e"/><rect x="88.40" y="534.26" width="4.17" height="52.04" fill="#801f6c"/><rect x="88.40" y="535.01" width="4.17" height="51.29" fill="#982766"/><rect x="88.40" y="539.40" width="4.17" height="46.90" fill="#b0315b"/><rect x="88.40" y="563.98" width="4.17" height="22.32" fill="#c63d4d"/><rect x="88.40" y="567.72" width="4.17" height="18.58" fill="#e2573c"/><rect x="88.40" y="569.23" width="4.17" height="17.07" fill="#fa9709"/><rect x="88.40" y="570.50" width="4.17" height="15.80" fill="#f8cd37"/><rect x="92.51" y="497.39" width="4.17" height="88.91" fill="#000004"/><rect x="92.51" y="503.66" width="4.17" height="82.64" fill="#0a0722"/><rect x="92.51" y="508.55" width="4.17" height="77.75" fill="#1e0c45"/><rect x="92.51" y="512.50" width="4.17" height="73.80" fill="#380962"/><rect x="92.51" y="519.90" width="4.17" height="66.40" fill="#510e6c"/><rect x="92.51" y="521.23" width="4.17" height="65.07" fill="#69166e"/><rect x="92.51" y="527.68" width="4.17" height="58.62" fill="#801f6c"/><rect x="92.51" y="528.74" width="4.17" height="57.56" fill="#982766"/><rect x="92.51" y="535.01" width="4.17" height="51.29" fill="#b0315b"/><rect x="92.51" y="560.15" width="4.17" height="26.15" fill="#c63d4d"/><rect x="92.51" y="565.17" width="4.17" height="21.13" fill="#e2573c"/><rect x="92.51" y="566.99" width="4.17" height="19.31" fill="#fa9709"/><rect x="92.51" y="569.62" width="4.17" height="16.68" fill="#f8cd37"/><rect x="96.62" y="486.73" width="4.17" height="99.57" fill="#000004"/><rect x="96.62" y="494.26" width="4.17" height="92.04" fill="#0a0722"/><rect x="96.62" y="499.15" width="4.17" height="87.15" fill="#1e0c45"/><rect x="96.62" y="503.03" width="4.17" height="83.27" fill="#380962"/><rect x="96.62" y="518.15" width="4.17" height="68.15" fill="#510e6c"/><rect x="96.62" y="518.78" width="4.17" height="67.52" fill="#69166e"/><rect x="96.62" y="521.84" width="4.17" height="64.46" fill="#801f6c"/><rect x="96.62" y="522.35" width="4.17" height="63.95" fill="#982766"/><rect x="96.62" y="528.74" width="4.17" height="57.56" fill="#b0315b"/><rect x="96.62" y="556.39" width="4.17" height="29.91" fill="#c63d4d"/><rect x="96.62" y="563.60" width="4.17" height="22.70" fill="#e2573c"/><rect x="96.62" y="565.73" width="4.17" height="20.57" fill="#fa9709"/><rect x="96.62" y="568.99" width="4.17" height="17.31" fill="#f8cd37"/><rect x="100.73" y="480.40" width="4.17" height="105.90" fill="#000004"/><rect x="100.73" y="486.73" width="4.17" height="99.57" fill="#0a0722"/><rect x="100.73" y="491.62" width="4.17" height="94.68" fill="#1e0c45"/><rect x="100.73" y="496.14" width="4.17" height="90.16" fill="#380962"/><rect x="100.73" y="513.76" width="4.17" height="72.54" fill="#510e6c"/><rect x="100.73" y="514.48" width="4.17" height="71.82" fill="#69166e"/><rect x="100.73" y="518.00" width="4.17" height="68.30" fill="#801f6c"/><rect x="100.73" y="518.58" width="4.17" height="67.72" fill="#982766"/><rect x="100.73" y="525.61" width="4.17" height="60.69" fill="#b0315b"/><rect x="100.73" y="553.88" width="4.17" height="32.42" fill="#c63d4d"/><rect x="100.73" y="562.04" width="4.17" height="24.26" fill="#e2573c"/><rect x="100.73" y="564.48" width="4.17" height="21.82" fill="#fa9709"/><rect x="100.73" y="568.37" width="4.17" height="17.93" fill="#f8cd37"/><rect x="104.84" y="470.37" width="4.17" height="115.93" fill="#000004"/><rect x="104.84" y="477.89" width="4.17" height="108.41" fill="#0a0722"/><rect x="104.84" y="484.73" width="4.17" height="101.57" fill="#1e0c45"/><rect x="104.84" y="488.61" width="4.17" height="97.69" fill="#380962"/><rect x="104.84" y="503.66" width="4.17" height="82.64" fill="#510e6c"/><rect x="104.84" y="505.08" width="4.17" height="81.22" fill="#69166e"/><rect x="104.84" y="511.99" width="4.17" height="74.31" fill="#801f6c"/><rect x="104.84" y="513.13" width="4.17" height="73.17" fill="#982766"/><rect x="104.84" y="519.84" width="4.17" height="66.46" fill="#b0315b"/><rect x="104.84" y="550.12" width="4.17" height="36.18" fill="#c63d4d"/><rect x="104.84" y="561.09" width="4.17" height="25.21" fill="#e2573c"/><rect x="104.84" y="563.85" width="4.17" height="22.45" fill="#fa9709"/><rect x="104.84" y="567.74" width="4.17" height="18.56" fill="#f8cd37"/><rect x="108.95" y="463.16" width="4.17" height="123.14" fill="#000004"/><rect x="108.95" y="470.37" width="4.17" height="115.93" fill="#0a0722"/><rect x="108.95" y="476.57" width="4.17" height="109.73" fill="#1e0c45"/><rect x="108.95" y="480.40" width="4.17" height="105.90" fill="#380962"/><rect x="108.95" y="497.39" width="4.17" height="88.91" fill="#510e6c"/><rect x="108.95" y="499.08" width="4.17" height="87.22" fill="#69166e"/><rect x="108.95" y="507.32" width="4.17" height="78.98" fill="#801f6c"/><rect x="108.95" y="508.68" width="4.17" height="77.62" fill="#982766"/><rect x="108.95" y="517.33" width="4.17" height="68.97" fill="#b0315b"/><rect x="108.95" y="547.61" width="4.17" height="38.69" fill="#c63d4d"/><rect x="108.95" y="560.47" width="4.17" height="25.83" fill="#e2573c"/><rect x="108.95" y="563.23" width="4.17" height="23.07" fill="#fa9709"/><rect x="108.95" y="566.49" width="4.17" height="19.81" fill="#f8cd37"/><rect x="113.06" y="453.63" width="4.17" height="132.67" fill="#000004"/><rect x="113.06" y="461.53" width="4.17" height="124.77" fill="#0a0722"/><rect x="113.06" y="468.42" width="4.17" height="117.88" fill="#1e0c45"/><rect x="113.06" y="475.38" width="4.17" height="110.92" fill="#380962"/><rect x="113.06" y="497.27" width="4.17" height="89.03" fill="#510e6c"/><rect x="113.06" y="498.86" width="4.17" height="87.44" fill="#69166e"/><rect x="113.06" y="506.65" width="4.17" height="79.65" fill="#801f6c"/><rect x="113.06" y="507.92" width="4.17" height="78.38" fill="#982766"/><rect x="113.06" y="517.64" width="4.17" height="68.66" fill="#b0315b"/><rect x="113.06" y="545.73" width="4.17" height="40.57" fill="#c63d4d"/><rect x="113.06" y="559.21" width="4.17" height="27.09" fill="#e2573c"/><rect x="113.06" y="561.91" width="4.17" height="24.39" fill="#fa9709"/><rect x="113.06" y="565.48" width="4.17" height="20.82" fill="#f8cd37"/><rect x="117.17" y="452.37" width="4.17" height="133.93" fill="#000004"/><rect x="117.17" y="459.02" width="4.17" height="127.28" fill="#0a0722"/><rect x="117.17" y="467.17" width="4.17" height="119.13" fill="#1e0c45"/><rect x="117.17" y="473.50" width="4.17" height="112.80" fill="#380962"/><rect x="117.17" y="496.64" width="4.17" height="89.66" fill="#510e6c"/><rect x="117.17" y="498.43" width="4.17" height="87.87" fill="#69166e"/><rect x="117.17" y="507.12" width="4.17" height="79.18" fill="#801f6c"/><rect x="117.17" y="508.55" width="4.17" height="77.75" fill="#982766"/><rect x="117.17" y="517.33" width="4.17" height="68.97" fill="#b0315b"/><rect x="117.17" y="543.23" width="4.17" height="43.07" fill="#c63d4d"/><rect x="117.17" y="558.59" width="4.17" height="27.71" fill="#e2573c"/><rect x="117.17" y="560.91" width="4.17" height="25.39" fill="#fa9709"/><rect x="117.17" y="564.61" width="4.17" height="21.69" fill="#f8cd37"/><rect x="121.28" y="446.35" width="4.17" height="139.95" fill="#000004"/><rect x="121.28" y="454.63" width="4.17" height="131.67" fill="#0a0722"/><rect x="121.28" y="463.41" width="4.17" height="122.89" fill="#1e0c45"/><rect x="121.28" y="469.74" width="4.17" height="116.56" fill="#380962"/><rect x="121.28" y="495.57" width="4.17" height="90.73" fill="#510e6c"/><rect x="121.28" y="497.43" width="4.17" height="88.87" fill="#69166e"/><rect x="121.28" y="506.44" width="4.17" height="79.86" fill="#801f6c"/><rect x="121.28" y="507.92" width="4.17" height="78.38" fill="#982766"/><rect x="121.28" y="516.39" width="4.17" height="69.91" fill="#b0315b"/><rect x="121.28" y="542.41" width="4.17" height="43.89" fill="#c63d4d"/><rect x="121.28" y="558.77" width="4.17" height="27.53" fill="#e2573c"/><rect x="121.28" y="560.91" width="4.17" height="25.39" fill="#fa9709"/><rect x="121.28" y="563.73" width="4.17" height="22.57" fill="#f8cd37"/><rect x="125.39" y="443.85" width="4.17" height="142.45" fill="#000004"/><rect x="125.39" y="452.75" width="4.17" height="133.55" fill="#0a0722"/><rect x="125.39" y="461.53" width="4.17" height="124.77" fill="#1e0c45"/><rect x="125.39" y="469.11" width="4.17" height="117.19" fill="#380962"/><rect x="125.39" y="498.83" width="4.17" height="87.47" fill="#510e6c"/><rect x="125.39" y="500.86" width="4.17" height="85.44" fill="#69166e"/><rect x="125.39" y="510.70" width="4.17" height="75.60" fill="#801f6c"/><rect x="125.39" y="512.31" width="4.17" height="73.99" fill="#982766"/><rect x="125.39" y="520.15" width="4.17" height="66.15" fill="#b0315b"/><rect x="125.39" y="543.23" width="4.17" height="43.07" fill="#c63d4d"/><rect x="125.39" y="558.15" width="4.17" height="28.15" fill="#e2573c"/><rect x="125.39" y="561.28" width="4.17" height="25.02" fill="#fa9709"/><rect x="125.39" y="563.73" width="4.17" height="22.57" fill="#f8cd37"/><rect x="129.50" y="432.25" width="4.17" height="154.05" fill="#000004"/><rect x="129.50" y="438.52" width="4.17" height="147.78" fill="#0a0722"/><rect x="129.50" y="446.48" width="4.17" height="139.82" fill="#1e0c45"/><rect x="129.50" y="457.14" width="4.17" height="129.16" fill="#380962"/><rect x="129.50" y="494.44" width="4.17" height="91.86" fill="#510e6c"/><rect x="129.50" y="496.84" width="4.17" height="89.46" fill="#69166e"/><rect x="129.50" y="508.51" width="4.17" height="77.79" fill="#801f6c"/><rect x="129.50" y="510.43" width="4.17" height="75.87" fill="#982766"/><rect x="129.50" y="517.96" width="4.17" height="68.34" fill="#b0315b"/><rect x="129.50" y="541.97" width="4.17" height="44.33" fill="#c63d4d"/><rect x="129.50" y="558.77" width="4.17" height="27.53" fill="#e2573c"/><rect x="129.50" y="562.16" width="4.17" height="24.14" fill="#fa9709"/><rect x="129.50" y="564.61" width="4.17" height="21.69" fill="#f8cd37"/><rect x="133.61" y="417.51" width="4.17" height="168.79" fill="#000004"/><rect x="133.61" y="428.48" width="4.17" height="157.82" fill="#0a0722"/><rect x="133.61" y="438.52" width="4.17" height="147.78" fill="#1e0c45"/><rect x="133.61" y="447.36" width="4.17" height="138.94" fill="#380962"/><rect x="133.61" y="490.18" width="4.17" height="96.12" fill="#510e6c"/><rect x="133.61" y="492.94" width="4.17" height="93.36" fill="#69166e"/><rect x="133.61" y="506.35" width="4.17" height="79.95" fill="#801f6c"/><rect x="133.61" y="508.55" width="4.17" height="77.75" fill="#982766"/><rect x="133.61" y="516.08" width="4.17" height="70.22" fill="#b0315b"/><rect x="133.61" y="543.85" width="4.17" height="42.45" fill="#c63d4d"/><rect x="133.61" y="560.67" width="4.17" height="25.63" fill="#e2573c"/><rect x="133.61" y="564.12" width="4.17" height="22.18" fill="#fa9709"/><rect x="133.61" y="566.49" width="4.17" height="19.81" fill="#f8cd37"/><rect x="137.72" y="397.26" width="4.17" height="189.04" fill="#000004"/><rect x="137.72" y="408.36" width="4.17" height="177.94" fill="#0a0722"/><rect x="137.72" y="420.33" width="4.17" height="165.97" fill="#1e0c45"/><rect x="137.72" y="429.74" width="4.17" height="156.56" fill="#380962"/><rect x="137.72" y="485.04" width="4.17" height="101.26" fill="#510e6c"/><rect x="137.72" y="487.86" width="4.17" height="98.44" fill="#69166e"/><rect x="137.72" y="501.59" width="4.17" height="84.71" fill="#801f6c"/><rect x="137.72" y="503.85" width="4.17" height="82.45" fill="#982766"/><rect x="137.72" y="511.69" width="4.17" height="74.61" fill="#b0315b"/><rect x="137.72" y="544.48" width="4.17" height="41.82" fill="#c63d4d"/><rect x="137.72" y="561.98" width="4.17" height="24.32" fill="#e2573c"/><rect x="137.72" y="565.56" width="4.17" height="20.74" fill="#fa9709"/><rect x="137.72" y="567.74" width="4.17" height="18.56" fill="#f8cd37"/><rect x="141.83" y="385.35" width="4.17" height="200.95" fill="#000004"/><rect x="141.83" y="395.13" width="4.17" height="191.17" fill="#0a0722"/><rect x="141.83" y="408.98" width="4.17" height="177.32" fill="#1e0c45"/><rect x="141.83" y="418.14" width="4.17" height="168.16" fill="#380962"/><rect x="141.83" y="488.55" width="4.17" height="97.75" fill="#510e6c"/><rect x="141.83" y="491.10" width="4.17" height="95.20" fill="#69166e"/><rect x="141.83" y="503.50" width="4.17" height="82.80" fill="#801f6c"/><rect x="141.83" y="505.54" width="4.17" height="80.76" fill="#982766"/><rect x="141.83" y="513.07" width="4.17" height="73.23" fill="#b0315b"/><rect x="141.83" y="545.11" width="4.17" height="41.19" fill="#c63d4d"/><rect x="141.83" y="563.87" width="4.17" height="22.43" fill="#e2573c"/><rect x="141.83" y="567.26" width="4.17" height="19.04" fill="#fa9709"/><rect x="141.83" y="569.62" width="4.17" height="16.68" fill="#f8cd37"/><rect x="145.94" y="383.47" width="4.17" height="202.83" fill="#000004"/><rect x="145.94" y="393.25" width="4.17" height="193.05" fill="#0a0722"/><rect x="145.94" y="407.73" width="4.17" height="178.57" fill="#1e0c45"/><rect x="145.94" y="417.76" width="4.17" height="168.54" fill="#380962"/><rect x="145.94" y="487.61" width="4.17" height="98.69" fill="#510e6c"/><rect x="145.94" y="490.22" width="4.17" height="96.08" fill="#69166e"/><rect x="145.94" y="502.95" width="4.17" height="83.35" fill="#801f6c"/><rect x="145.94" y="505.04" width="4.17" height="81.26" fill="#982766"/><rect x="145.94" y="512.63" width="4.17" height="73.67" fill="#b0315b"/><rect x="145.94" y="546.99" width="4.17" height="39.31" fill="#c63d4d"/><rect x="145.94" y="565.13" width="4.17" height="21.17" fill="#e2573c"/><rect x="145.94" y="568.51" width="4.17" height="17.79" fill="#fa9709"/><rect x="145.94" y="570.88" width="4.17" height="15.42" fill="#f8cd37"/><rect x="150.05" y="394.50" width="4.17" height="191.80" fill="#000004"/><rect x="150.05" y="405.22" width="4.17" height="181.08" fill="#0a0722"/><rect x="150.05" y="420.96" width="4.17" height="165.34" fill="#1e0c45"/><rect x="150.05" y="429.74" width="4.17" height="156.56" fill="#380962"/><rect x="150.05" y="488.80" width="4.17" height="97.50" fill="#510e6c"/><rect x="150.05" y="491.31" width="4.17" height="94.99" fill="#69166e"/><rect x="150.05" y="503.53" width="4.17" height="82.77" fill="#801f6c"/><rect x="150.05" y="505.54" width="4.17" height="80.76" fill="#982766"/><rect x="150.05" y="513.38" width="4.17" height="72.92" fill="#b0315b"/><rect x="150.05" y="547.61" width="4.17" height="38.69" fill="#c63d4d"/><rect x="150.05" y="566.38" width="4.17" height="19.92" fill="#e2573c"/><rect x="150.05" y="569.77" width="4.17" height="16.53" fill="#fa9709"/><rect x="150.05" y="572.13" width="4.17" height="14.17" fill="#f8cd37"/><rect x="154.16" y="406.48" width="4.17" height="179.82" fill="#000004"/><rect x="154.16" y="417.76" width="4.17" height="168.54" fill="#0a0722"/><rect x="154.16" y="435.38" width="4.17" height="150.92" fill="#1e0c45"/><rect x="154.16" y="444.16" width="4.17" height="142.14" fill="#380962"/><rect x="154.16" y="491.81" width="4.17" height="94.49" fill="#510e6c"/><rect x="154.16" y="494.28" width="4.17" height="92.02" fill="#69166e"/><rect x="154.16" y="506.27" width="4.17" height="80.03" fill="#801f6c"/><rect x="154.16" y="508.24" width="4.17" height="78.06" fill="#982766"/><rect x="154.16" y="516.33" width="4.17" height="69.97" fill="#b0315b"/><rect x="154.16" y="548.24" width="4.17" height="38.06" fill="#c63d4d"/><rect x="154.16" y="567.06" width="4.17" height="19.24" fill="#e2573c"/><rect x="154.16" y="570.83" width="4.17" height="15.47" fill="#fa9709"/><rect x="154.16" y="573.01" width="4.17" height="13.29" fill="#f8cd37"/><rect x="158.27" y="418.39" width="4.17" height="167.91" fill="#000004"/><rect x="158.27" y="429.55" width="4.17" height="156.75" fill="#0a0722"/><rect x="158.27" y="446.10" width="4.17" height="140.20" fill="#1e0c45"/><rect x="158.27" y="456.01" width="4.17" height="130.29" fill="#380962"/><rect x="158.27" y="498.52" width="4.17" height="87.78" fill="#510e6c"/><rect x="158.27" y="500.97" width="4.17" height="85.33" fill="#69166e"/><rect x="158.27" y="512.87" width="4.17" height="73.43" fill="#801f6c"/><rect x="158.27" y="514.82" width="4.17" height="71.48" fill="#982766"/><rect x="158.27" y="522.35" width="4.17" height="63.95" fill="#b0315b"/><rect x="158.27" y="551.38" width="4.17" height="34.92" fill="#c63d4d"/><rect x="158.27" y="569.57" width="4.17" height="16.73" fill="#e2573c"/><rect x="158.27" y="572.08" width="4.17" height="14.22" fill="#fa9709"/><rect x="158.27" y="574.26" width="4.17" height="12.04" fill="#f8cd37"/><rect x="162.38" y="424.72" width="4.17" height="161.58" fill="#000004"/><rect x="162.38" y="434.75" width="4.17" height="151.55" fill="#0a0722"/><rect x="162.38" y="453.63" width="4.17" height="132.67" fill="#1e0c45"/><rect x="162.38" y="462.15" width="4.17" height="124.15" fill="#380962"/><rect x="162.38" y="503.10" width="4.17" height="83.20" fill="#510e6c"/><rect x="162.38" y="505.56" width="4.17" height="80.74" fill="#69166e"/><rect x="162.38" y="517.55" width="4.17" height="68.75" fill="#801f6c"/><rect x="162.38" y="519.52" width="4.17" height="66.78" fill="#982766"/><rect x="162.38" y="526.11" width="4.17" height="60.19" fill="#b0315b"/><rect x="162.38" y="554.51" width="4.17" height="31.79" fill="#c63d4d"/><rect x="162.38" y="570.83" width="4.17" height="15.47" fill="#e2573c"/><rect x="162.38" y="573.08" width="4.17" height="13.22" fill="#fa9709"/><rect x="162.38" y="575.26" width="4.17" height="11.04" fill="#f8cd37"/><rect x="166.49" y="434.38" width="4.17" height="151.92" fill="#000004"/><rect x="166.49" y="443.53" width="4.17" height="142.77" fill="#0a0722"/><rect x="166.49" y="461.53" width="4.17" height="124.77" fill="#1e0c45"/><rect x="166.49" y="469.74" width="4.17" height="116.56" fill="#380962"/><rect x="166.49" y="509.81" width="4.17" height="76.49" fill="#510e6c"/><rect x="166.49" y="512.20" width="4.17" height="74.10" fill="#69166e"/><rect x="166.49" y="523.88" width="4.17" height="62.42" fill="#801f6c"/><rect x="166.49" y="525.79" width="4.17" height="60.51" fill="#982766"/><rect x="166.49" y="531.25" width="4.17" height="55.05" fill="#b0315b"/><rect x="166.49" y="558.27" width="4.17" height="28.03" fill="#c63d4d"/><rect x="166.49" y="572.82" width="4.17" height="13.48" fill="#e2573c"/><rect x="166.49" y="574.70" width="4.17" height="11.60" fill="#fa9709"/><rect x="166.49" y="576.52" width="4.17" height="9.78" fill="#f8cd37"/><rect x="170.60" y="433.50" width="4.17" height="152.80" fill="#000004"/><rect x="170.60" y="442.28" width="4.17" height="144.02" fill="#0a0722"/><rect x="170.60" y="460.90" width="4.17" height="125.40" fill="#1e0c45"/><rect x="170.60" y="468.49" width="4.17" height="117.81" fill="#380962"/><rect x="170.60" y="511.25" width="4.17" height="75.05" fill="#510e6c"/><rect x="170.60" y="513.59" width="4.17" height="72.71" fill="#69166e"/><rect x="170.60" y="524.99" width="4.17" height="61.31" fill="#801f6c"/><rect x="170.60" y="526.86" width="4.17" height="59.44" fill="#982766"/><rect x="170.60" y="532.50" width="4.17" height="53.80" fill="#b0315b"/><rect x="170.60" y="560.78" width="4.17" height="25.52" fill="#c63d4d"/><rect x="170.60" y="573.50" width="4.17" height="12.80" fill="#e2573c"/><rect x="170.60" y="575.76" width="4.17" height="10.54" fill="#fa9709"/><rect x="170.60" y="577.40" width="4.17" height="8.90" fill="#f8cd37"/><rect x="174.71" y="431.62" width="4.17" height="154.68" fill="#000004"/><rect x="174.71" y="439.77" width="4.17" height="146.53" fill="#0a0722"/><rect x="174.71" y="455.26" width="4.17" height="131.04" fill="#1e0c45"/><rect x="174.71" y="462.78" width="4.17" height="123.52" fill="#380962"/><rect x="174.71" y="512.50" width="4.17" height="73.80" fill="#510e6c"/><rect x="174.71" y="514.84" width="4.17" height="71.46" fill="#69166e"/><rect x="174.71" y="526.24" width="4.17" height="60.06" fill="#801f6c"/><rect x="174.71" y="528.11" width="4.17" height="58.19" fill="#982766"/><rect x="174.71" y="533.13" width="4.17" height="53.17" fill="#b0315b"/><rect x="174.71" y="562.66" width="4.17" height="23.64" fill="#c63d4d"/><rect x="174.71" y="574.81" width="4.17" height="11.49" fill="#e2573c"/><rect x="174.71" y="576.95" width="4.17" height="9.35" fill="#fa9709"/><rect x="174.71" y="578.40" width="4.17" height="7.90" fill="#f8cd37"/><rect x="178.82" y="429.99" width="4.17" height="156.31" fill="#000004"/><rect x="178.82" y="439.77" width="4.17" height="146.53" fill="#0a0722"/><rect x="178.82" y="452.37" width="4.17" height="133.93" fill="#1e0c45"/><rect x="178.82" y="459.02" width="4.17" height="127.28" fill="#380962"/><rect x="178.82" y="515.64" width="4.17" height="70.66" fill="#510e6c"/><rect x="178.82" y="517.98" width="4.17" height="68.32" fill="#69166e"/><rect x="178.82" y="529.38" width="4.17" height="56.92" fill="#801f6c"/><rect x="178.82" y="531.25" width="4.17" height="55.05" fill="#982766"/><rect x="178.82" y="536.27" width="4.17" height="50.03" fill="#b0315b"/><rect x="178.82" y="564.61" width="4.17" height="21.69" fill="#c63d4d"/><rect x="178.82" y="576.12" width="4.17" height="10.18" fill="#e2573c"/><rect x="178.82" y="578.00" width="4.17" height="8.30" fill="#fa9709"/><rect x="178.82" y="579.28" width="4.17" height="7.02" fill="#f8cd37"/><rect x="182.93" y="439.52" width="4.17" height="146.78" fill="#000004"/><rect x="182.93" y="446.10" width="4.17" height="140.20" fill="#0a0722"/><rect x="182.93" y="459.02" width="4.17" height="127.28" fill="#1e0c45"/><rect x="182.93" y="465.29" width="4.17" height="121.01" fill="#380962"/><rect x="182.93" y="521.22" width="4.17" height="65.08" fill="#510e6c"/><rect x="182.93" y="523.29" width="4.17" height="63.01" fill="#69166e"/><rect x="182.93" y="533.36" width="4.17" height="52.94" fill="#801f6c"/><rect x="182.93" y="535.01" width="4.17" height="51.29" fill="#982766"/><rect x="182.93" y="539.40" width="4.17" height="46.90" fill="#b0315b"/><rect x="182.93" y="567.74" width="4.17" height="18.56" fill="#c63d4d"/><rect x="182.93" y="577.43" width="4.17" height="8.87" fill="#e2573c"/><rect x="182.93" y="579.19" width="4.17" height="7.11" fill="#fa9709"/><rect x="182.93" y="580.28" width="4.17" height="6.02" fill="#f8cd37"/><rect x="187.04" y="458.77" width="4.17" height="127.53" fill="#000004"/><rect x="187.04" y="464.03" width="4.17" height="122.27" fill="#0a0722"/><rect x="187.04" y="477.20" width="4.17" height="109.10" fill="#1e0c45"/><rect x="187.04" y="483.53" width="4.17" height="102.77" fill="#380962"/><rect x="187.04" y="526.23" width="4.17" height="60.07" fill="#510e6c"/><rect x="187.04" y="528.40" width="4.17" height="57.90" fill="#69166e"/><rect x="187.04" y="538.92" width="4.17" height="47.38" fill="#801f6c"/><rect x="187.04" y="540.65" width="4.17" height="45.65" fill="#982766"/><rect x="187.04" y="544.48" width="4.17" height="41.82" fill="#b0315b"/><rect x="187.04" y="570.25" width="4.17" height="16.05" fill="#c63d4d"/><rect x="187.04" y="578.49" width="4.17" height="7.81" fill="#e2573c"/><rect x="187.04" y="580.37" width="4.17" height="5.93" fill="#fa9709"/><rect x="187.04" y="581.28" width="4.17" height="5.02" fill="#f8cd37"/><rect x="191.15" y="481.40" width="4.17" height="104.90" fill="#000004"/><rect x="191.15" y="485.42" width="4.17" height="100.88" fill="#0a0722"/><rect x="191.15" y="497.27" width="4.17" height="89.03" fill="#1e0c45"/><rect x="191.15" y="502.41" width="4.17" height="83.89" fill="#380962"/><rect x="191.15" y="533.13" width="4.17" height="53.17" fill="#510e6c"/><rect x="191.15" y="535.02" width="4.17" height="51.28" fill="#69166e"/><rect x="191.15" y="544.22" width="4.17" height="42.08" fill="#801f6c"/><rect x="191.15" y="545.73" width="4.17" height="40.57" fill="#982766"/><rect x="191.15" y="550.12" width="4.17" height="36.18" fill="#b0315b"/><rect x="191.15" y="572.76" width="4.17" height="13.54" fill="#c63d4d"/><rect x="191.15" y="580.06" width="4.17" height="6.24" fill="#e2573c"/><rect x="191.15" y="581.69" width="4.17" height="4.61" fill="#fa9709"/><rect x="191.15" y="582.41" width="4.17" height="3.89" fill="#f8cd37"/><rect x="195.26" y="497.39" width="4.17" height="88.91" fill="#000004"/><rect x="195.26" y="500.53" width="4.17" height="85.77" fill="#0a0722"/><rect x="195.26" y="510.43" width="4.17" height="75.87" fill="#1e0c45"/><rect x="195.26" y="515.64" width="4.17" height="70.66" fill="#380962"/><rect x="195.26" y="539.27" width="4.17" height="47.03" fill="#510e6c"/><rect x="195.26" y="540.87" width="4.17" height="45.43" fill="#69166e"/><rect x="195.26" y="548.65" width="4.17" height="37.65" fill="#801f6c"/><rect x="195.26" y="549.93" width="4.17" height="36.37" fill="#982766"/><rect x="195.26" y="554.95" width="4.17" height="31.35" fill="#b0315b"/><rect x="195.26" y="575.26" width="4.17" height="11.04" fill="#c63d4d"/><rect x="195.26" y="581.37" width="4.17" height="4.93" fill="#e2573c"/><rect x="195.26" y="582.87" width="4.17" height="3.43" fill="#fa9709"/><rect x="195.26" y="583.42" width="4.17" height="2.88" fill="#f8cd37"/><rect x="199.37" y="507.42" width="4.17" height="78.88" fill="#000004"/><rect x="199.37" y="510.56" width="4.17" height="75.74" fill="#0a0722"/><rect x="199.37" y="520.46" width="4.17" height="65.84" fill="#1e0c45"/><rect x="199.37" y="524.98" width="4.17" height="61.32" fill="#380962"/><rect x="199.37" y="545.73" width="4.17" height="40.57" fill="#510e6c"/><rect x="199.37" y="547.05" width="4.17" height="39.25" fill="#69166e"/><rect x="199.37" y="553.46" width="4.17" height="32.84" fill="#801f6c"/><rect x="199.37" y="554.51" width="4.17" height="31.79" fill="#982766"/><rect x="199.37" y="560.15" width="4.17" height="26.15" fill="#b0315b"/><rect x="199.37" y="577.77" width="4.17" height="8.53" fill="#c63d4d"/><rect x="199.37" y="582.40" width="4.17" height="3.90" fill="#e2573c"/><rect x="199.37" y="583.34" width="4.17" height="2.96" fill="#fa9709"/><rect x="199.37" y="583.79" width="4.17" height="2.51" fill="#f8cd37"/><rect x="203.48" y="514.38" width="4.17" height="71.92" fill="#000004"/><rect x="203.48" y="517.33" width="4.17" height="68.97" fill="#0a0722"/><rect x="203.48" y="524.23" width="4.17" height="62.07" fill="#1e0c45"/><rect x="203.48" y="527.49" width="4.17" height="58.81" fill="#380962"/><rect x="203.48" y="547.61" width="4.17" height="38.69" fill="#510e6c"/><rect x="203.48" y="548.84" width="4.17" height="37.46" fill="#69166e"/><rect x="203.48" y="554.79" width="4.17" height="31.51" fill="#801f6c"/><rect x="203.48" y="555.77" width="4.17" height="30.53" fill="#982766"/><rect x="203.48" y="562.04" width="4.17" height="24.26" fill="#b0315b"/><rect x="203.48" y="578.40" width="4.17" height="7.90" fill="#c63d4d"/><rect x="203.48" y="583.05" width="4.17" height="3.25" fill="#e2573c"/><rect x="203.48" y="583.87" width="4.17" height="2.43" fill="#fa9709"/><rect x="203.48" y="584.23" width="4.17" height="2.07" fill="#f8cd37"/><rect x="207.59" y="517.52" width="4.17" height="68.78" fill="#000004"/><rect x="207.59" y="520.46" width="4.17" height="65.84" fill="#0a0722"/><rect x="207.59" y="527.99" width="4.17" height="58.31" fill="#1e0c45"/><rect x="207.59" y="530.62" width="4.17" height="55.68" fill="#380962"/><rect x="207.59" y="548.87" width="4.17" height="37.43" fill="#510e6c"/><rect x="207.59" y="550.00" width="4.17" height="36.30" fill="#69166e"/><rect x="207.59" y="555.49" width="4.17" height="30.81" fill="#801f6c"/><rect x="207.59" y="556.39" width="4.17" height="29.91" fill="#982766"/><rect x="207.59" y="563.29" width="4.17" height="23.01" fill="#b0315b"/><rect x="207.59" y="579.65" width="4.17" height="6.65" fill="#c63d4d"/><rect x="207.59" y="583.68" width="4.17" height="2.62" fill="#e2573c"/><rect x="207.59" y="584.31" width="4.17" height="1.99" fill="#fa9709"/><rect x="207.59" y="584.67" width="4.17" height="1.63" fill="#f8cd37"/><rect x="211.70" y="520.21" width="4.17" height="66.09" fill="#000004"/><rect x="211.70" y="523.60" width="4.17" height="62.70" fill="#0a0722"/><rect x="211.70" y="529.87" width="4.17" height="56.43" fill="#1e0c45"/><rect x="211.70" y="531.88" width="4.17" height="54.42" fill="#380962"/><rect x="211.70" y="549.50" width="4.17" height="36.80" fill="#510e6c"/><rect x="211.70" y="550.62" width="4.17" height="35.68" fill="#69166e"/><rect x="211.70" y="556.12" width="4.17" height="30.18" fill="#801f6c"/><rect x="211.70" y="557.02" width="4.17" height="29.28" fill="#982766"/><rect x="211.70" y="563.98" width="4.17" height="22.32" fill="#b0315b"/><rect x="211.70" y="580.91" width="4.17" height="5.39" fill="#c63d4d"/><rect x="211.70" y="584.21" width="4.17" height="2.09" fill="#e2573c"/><rect x="211.70" y="584.77" width="4.17" height="1.53" fill="#fa9709"/><rect x="211.70" y="585.05" width="4.17" height="1.25" fill="#f8cd37"/><rect x="215.81" y="526.48" width="4.17" height="59.82" fill="#000004"/><rect x="215.81" y="528.62" width="4.17" height="57.68" fill="#0a0722"/><rect x="215.81" y="534.26" width="4.17" height="52.04" fill="#1e0c45"/><rect x="215.81" y="536.27" width="4.17" height="50.03" fill="#380962"/><rect x="215.81" y="552.63" width="4.17" height="33.67" fill="#510e6c"/><rect x="215.81" y="553.66" width="4.17" height="32.64" fill="#69166e"/><rect x="215.81" y="558.70" width="4.17" height="27.60" fill="#801f6c"/><rect x="215.81" y="559.53" width="4.17" height="26.77" fill="#982766"/><rect x="215.81" y="565.86" width="4.17" height="20.44" fill="#b0315b"/><rect x="215.81" y="581.53" width="4.17" height="4.77" fill="#c63d4d"/><rect x="215.81" y="584.59" width="4.17" height="1.71" fill="#e2573c"/><rect x="215.81" y="585.02" width="4.17" height="1.28" fill="#fa9709"/><rect x="215.81" y="585.30" width="4.17" height="1.00" fill="#f8cd37"/><rect x="219.92" y="531.25" width="4.17" height="55.05" fill="#000004"/><rect x="219.92" y="533.63" width="4.17" height="52.67" fill="#0a0722"/><rect x="219.92" y="538.65" width="4.17" height="47.65" fill="#1e0c45"/><rect x="219.92" y="540.65" width="4.17" height="45.65" fill="#380962"/><rect x="219.92" y="555.14" width="4.17" height="31.16" fill="#510e6c"/><rect x="219.92" y="556.17" width="4.17" height="30.13" fill="#69166e"/><rect x="219.92" y="561.21" width="4.17" height="25.09" fill="#801f6c"/><rect x="219.92" y="562.04" width="4.17" height="24.26" fill="#982766"/><rect x="219.92" y="568.99" width="4.17" height="17.31" fill="#b0315b"/><rect x="219.92" y="582.79" width="4.17" height="3.51" fill="#c63d4d"/><rect x="219.92" y="584.99" width="4.17" height="1.31" fill="#e2573c"/><rect x="219.92" y="585.37" width="4.17" height="0.93" fill="#fa9709"/><rect x="219.92" y="585.55" width="4.17" height="0.75" fill="#f8cd37"/><rect x="224.03" y="535.26" width="4.17" height="51.04" fill="#000004"/><rect x="224.03" y="537.39" width="4.17" height="48.91" fill="#0a0722"/><rect x="224.03" y="542.41" width="4.17" height="43.89" fill="#1e0c45"/><rect x="224.03" y="544.48" width="4.17" height="41.82" fill="#380962"/><rect x="224.03" y="557.65" width="4.17" height="28.65" fill="#510e6c"/><rect x="224.03" y="558.97" width="4.17" height="27.33" fill="#69166e"/><rect x="224.03" y="565.43" width="4.17" height="20.87" fill="#801f6c"/><rect x="224.03" y="566.49" width="4.17" height="19.81" fill="#982766"/><rect x="224.03" y="572.13" width="4.17" height="14.17" fill="#b0315b"/><rect x="224.03" y="583.42" width="4.17" height="2.88" fill="#c63d4d"/><rect x="224.03" y="585.24" width="4.17" height="1.06" fill="#e2573c"/><rect x="224.03" y="585.49" width="4.17" height="0.81" fill="#fa9709"/><rect x="224.03" y="585.67" width="4.17" height="0.63" fill="#f8cd37"/><rect x="228.14" y="543.60" width="4.17" height="42.70" fill="#000004"/><rect x="228.14" y="545.54" width="4.17" height="40.76" fill="#0a0722"/><rect x="228.14" y="550.25" width="4.17" height="36.05" fill="#1e0c45"/><rect x="228.14" y="552.00" width="4.17" height="34.30" fill="#380962"/><rect x="228.14" y="564.61" width="4.17" height="21.69" fill="#510e6c"/><rect x="228.14" y="565.45" width="4.17" height="20.85" fill="#69166e"/><rect x="228.14" y="569.57" width="4.17" height="16.73" fill="#801f6c"/><rect x="228.14" y="570.25" width="4.17" height="16.05" fill="#982766"/><rect x="228.14" y="575.89" width="4.17" height="10.41" fill="#b0315b"/><rect x="228.14" y="584.04" width="4.17" height="2.26" fill="#c63d4d"/><rect x="228.14" y="585.52" width="4.17" height="0.78" fill="#e2573c"/><rect x="228.14" y="585.71" width="4.17" height="0.59" fill="#fa9709"/><rect x="228.14" y="585.80" width="4.17" height="0.50" fill="#f8cd37"/><rect x="232.25" y="552.38" width="4.17" height="33.92" fill="#000004"/><rect x="232.25" y="554.01" width="4.17" height="32.29" fill="#0a0722"/><rect x="232.25" y="557.46" width="4.17" height="28.84" fill="#1e0c45"/><rect x="232.25" y="558.90" width="4.17" height="27.40" fill="#380962"/><rect x="232.25" y="568.99" width="4.17" height="17.31" fill="#510e6c"/><rect x="232.25" y="569.75" width="4.17" height="16.55" fill="#69166e"/><rect x="232.25" y="573.41" width="4.17" height="12.89" fill="#801f6c"/><rect x="232.25" y="574.01" width="4.17" height="12.29" fill="#982766"/><rect x="232.25" y="577.77" width="4.17" height="8.53" fill="#b0315b"/><rect x="232.25" y="584.67" width="4.17" height="1.63" fill="#c63d4d"/><rect x="232.25" y="585.64" width="4.17" height="0.66" fill="#e2573c"/><rect x="232.25" y="585.83" width="4.17" height="0.47" fill="#fa9709"/><rect x="232.25" y="585.92" width="4.17" height="0.38" fill="#f8cd37"/><rect x="236.36" y="559.53" width="4.17" height="26.77" fill="#000004"/><rect x="236.36" y="561.22" width="4.17" height="25.08" fill="#0a0722"/><rect x="236.36" y="564.67" width="4.17" height="21.63" fill="#1e0c45"/><rect x="236.36" y="565.86" width="4.17" height="20.44" fill="#380962"/><rect x="236.36" y="572.13" width="4.17" height="14.17" fill="#510e6c"/><rect x="236.36" y="572.79" width="4.17" height="13.51" fill="#69166e"/><rect x="236.36" y="575.99" width="4.17" height="10.31" fill="#801f6c"/><rect x="236.36" y="576.52" width="4.17" height="9.78" fill="#982766"/><rect x="236.36" y="579.65" width="4.17" height="6.65" fill="#b0315b"/><rect x="236.36" y="585.17" width="4.17" height="1.13" fill="#c63d4d"/><rect x="236.36" y="585.83" width="4.17" height="0.47" fill="#e2573c"/><rect x="236.36" y="585.96" width="4.17" height="0.34" fill="#fa9709"/><rect x="236.36" y="586.05" width="4.17" height="0.25" fill="#f8cd37"/><rect x="240.47" y="567.11" width="4.17" height="19.19" fill="#000004"/><rect x="240.47" y="568.12" width="4.17" height="18.18" fill="#0a0722"/><rect x="240.47" y="570.62" width="4.17" height="15.68" fill="#1e0c45"/><rect x="240.47" y="571.50" width="4.17" height="14.80" fill="#380962"/><rect x="240.47" y="576.52" width="4.17" height="9.78" fill="#510e6c"/><rect x="240.47" y="576.99" width="4.17" height="9.31" fill="#69166e"/><rect x="240.47" y="579.28" width="4.17" height="7.02" fill="#801f6c"/><rect x="240.47" y="579.65" width="4.17" height="6.65" fill="#982766"/><rect x="240.47" y="582.16" width="4.17" height="4.14" fill="#b0315b"/><rect x="240.47" y="585.55" width="4.17" height="0.75" fill="#c63d4d"/><rect x="240.47" y="585.96" width="4.17" height="0.34" fill="#e2573c"/><rect x="240.47" y="586.02" width="4.17" height="0.28" fill="#fa9709"/><rect x="240.47" y="586.11" width="4.17" height="0.19" fill="#f8cd37"/><rect x="244.58" y="573.38" width="4.17" height="12.92" fill="#000004"/><rect x="244.58" y="574.07" width="4.17" height="12.23" fill="#0a0722"/><rect x="244.58" y="575.95" width="4.17" height="10.35" fill="#1e0c45"/><rect x="244.58" y="576.52" width="4.17" height="9.78" fill="#380962"/><rect x="244.58" y="580.28" width="4.17" height="6.02" fill="#510e6c"/><rect x="244.58" y="580.56" width="4.17" height="5.74" fill="#69166e"/><rect x="244.58" y="581.94" width="4.17" height="4.36" fill="#801f6c"/><rect x="244.58" y="582.16" width="4.17" height="4.14" fill="#982766"/><rect x="244.58" y="583.79" width="4.17" height="2.51" fill="#b0315b"/><rect x="244.58" y="585.80" width="4.17" height="0.50" fill="#c63d4d"/><rect x="244.58" y="586.10" width="4.17" height="0.20" fill="#e2573c"/><rect x="244.58" y="586.13" width="4.17" height="0.17" fill="#fa9709"/><rect x="244.58" y="586.17" width="4.17" height="0.13" fill="#f8cd37"/><rect x="248.69" y="578.15" width="4.17" height="8.15" fill="#000004"/><rect x="248.69" y="578.65" width="4.17" height="7.65" fill="#0a0722"/><rect x="248.69" y="579.90" width="4.17" height="6.40" fill="#1e0c45"/><rect x="248.69" y="580.28" width="4.17" height="6.02" fill="#380962"/><rect x="248.69" y="582.54" width="4.17" height="3.76" fill="#510e6c"/><rect x="248.69" y="582.76" width="4.17" height="3.54" fill="#69166e"/><rect x="248.69" y="583.86" width="4.17" height="2.44" fill="#801f6c"/><rect x="248.69" y="584.04" width="4.17" height="2.26" fill="#982766"/><rect x="248.69" y="585.05" width="4.17" height="1.25" fill="#b0315b"/><rect x="248.69" y="585.99" width="4.17" height="0.31" fill="#c63d4d"/><rect x="248.69" y="586.16" width="4.17" height="0.14" fill="#e2573c"/><rect x="248.69" y="586.19" width="4.17" height="0.11" fill="#fa9709"/><rect x="248.69" y="586.24" width="4.17" height="0.06" fill="#f8cd37"/><rect x="252.80" y="580.91" width="4.17" height="5.39" fill="#000004"/><rect x="252.80" y="581.28" width="4.17" height="5.02" fill="#0a0722"/><rect x="252.80" y="582.29" width="4.17" height="4.01" fill="#1e0c45"/><rect x="252.80" y="582.54" width="4.17" height="3.76" fill="#380962"/><rect x="252.80" y="584.04" width="4.17" height="2.26" fill="#510e6c"/><rect x="252.80" y="584.19" width="4.17" height="2.11" fill="#69166e"/><rect x="252.80" y="584.93" width="4.17" height="1.37" fill="#801f6c"/><rect x="252.80" y="585.05" width="4.17" height="1.25" fill="#982766"/><rect x="252.80" y="585.61" width="4.17" height="0.69" fill="#b0315b"/><rect x="252.80" y="586.11" width="4.17" height="0.19" fill="#c63d4d"/><rect x="252.80" y="586.24" width="4.17" height="0.06" fill="#f8cd37"/><rect x="256.91" y="583.16" width="4.17" height="3.14" fill="#000004"/><rect x="256.91" y="583.42" width="4.17" height="2.88" fill="#0a0722"/><rect x="256.91" y="583.98" width="4.17" height="2.32" fill="#1e0c45"/><rect x="256.91" y="584.17" width="4.17" height="2.13" fill="#380962"/><rect x="256.91" y="585.05" width="4.17" height="1.25" fill="#510e6c"/><rect x="256.91" y="585.13" width="4.17" height="1.17" fill="#69166e"/><rect x="256.91" y="585.54" width="4.17" height="0.76" fill="#801f6c"/><rect x="256.91" y="585.61" width="4.17" height="0.69" fill="#982766"/><rect x="256.91" y="585.92" width="4.17" height="0.38" fill="#b0315b"/><rect x="256.91" y="586.17" width="4.17" height="0.13" fill="#c63d4d"/><rect x="256.91" y="586.27" width="4.17" height="0.03" fill="#f8cd37"/><rect x="261.02" y="584.73" width="4.17" height="1.57" fill="#000004"/><rect x="261.02" y="584.86" width="4.17" height="1.44" fill="#0a0722"/><rect x="261.02" y="585.11" width="4.17" height="1.19" fill="#1e0c45"/><rect x="261.02" y="585.23" width="4.17" height="1.07" fill="#380962"/><rect x="261.02" y="585.67" width="4.17" height="0.63" fill="#510e6c"/><rect x="261.02" y="585.71" width="4.17" height="0.59" fill="#69166e"/><rect x="261.02" y="585.89" width="4.17" height="0.41" fill="#801f6c"/><rect x="261.02" y="585.92" width="4.17" height="0.38" fill="#982766"/><rect x="261.02" y="586.11" width="4.17" height="0.19" fill="#b0315b"/><rect x="265.13" y="585.36" width="4.17" height="0.94" fill="#000004"/><rect x="269.24" y="585.67" width="4.17" height="0.63" fill="#000004"/><rect x="273.35" y="585.86" width="4.17" height="0.44" fill="#000004"/><rect x="277.46" y="585.99" width="4.17" height="0.31" fill="#000004"/><rect x="281.57" y="586.11" width="4.17" height="0.19" fill="#000004"/></g>
<path d="M47.30,572.13h4.11M47.30,568.99h4.11M47.30,560.15h4.11M47.30,556.83h4.11M47.30,543.23h4.11M47.30,540.53h4.11M47.30,538.02h4.11M47.30,532.50h4.11M47.30,586.30h4.11M51.41,576.27h4.11M51.41,573.01h4.11M51.41,572.19h4.11M51.41,570.94h4.11M51.41,569.87h4.11M51.41,568.74h4.11M51.41,586.30h4.11M55.52,575.64h4.11M55.52,568.37h4.11M55.52,566.86h4.11M55.52,566.24h4.11M55.52,564.98h4.11M55.52,560.78h4.11M55.52,586.30h4.11M59.63,574.64h4.11M59.63,560.15h4.11M59.63,559.34h4.11M59.63,556.83h4.11M59.63,554.26h4.11M59.63,586.30h4.11M63.74,573.38h4.11M63.74,570.88h4.11M63.74,552.00h4.11M63.74,550.87h4.11M63.74,545.98h4.11M63.74,586.30h4.11M67.85,572.13h4.11M67.85,570.25h4.11M67.85,557.65h4.11M67.85,555.14h4.11M67.85,550.56h4.11M67.85,547.61h4.11M67.85,586.30h4.11M71.96,571.88h4.11M71.96,569.62h4.11M71.96,558.90h4.11M71.96,554.51h4.11M71.96,549.31h4.11M71.96,545.36h4.11M71.96,586.30h4.11M76.07,572.13h4.11M76.07,569.62h4.11M76.07,547.61h4.11M76.07,544.92h4.11M76.07,541.16h4.11M76.07,540.53h4.11M76.07,539.40h4.11M76.07,531.25h4.11M76.07,586.30h4.11M80.18,572.76h4.11M80.18,570.25h4.11M80.18,544.48h4.11M80.18,541.16h4.11M80.18,531.88h4.11M80.18,529.87h4.11M80.18,527.36h4.11M80.18,519.27h4.11M80.18,586.30h4.11M84.29,571.25h4.11M84.29,566.49h4.11M84.29,545.73h4.11M84.29,540.03h4.11M84.29,535.01h4.11M84.29,527.99h4.11M84.29,524.85h4.11M84.29,521.09h4.11M84.29,513.51h4.11M84.29,586.30h4.11M88.40,570.50h4.11M88.40,563.98h4.11M88.40,539.40h4.11M88.40,535.01h4.11M88.40,528.74h4.11M88.40,521.72h4.11M88.40,517.96h4.11M88.40,513.57h4.11M88.40,506.42h4.11M88.40,586.30h4.11M92.51,560.15h4.11M92.51,535.01h4.11M92.51,528.74h4.11M92.51,519.90h4.11M92.51,512.50h4.11M92.51,508.55h4.11M92.51,503.66h4.11M92.51,497.39h4.11M92.51,586.30h4.11M96.62,556.39h4.11M96.62,528.74h4.11M96.62,522.35h4.11M96.62,518.15h4.11M96.62,503.03h4.11M96.62,499.15h4.11M96.62,494.26h4.11M96.62,486.73h4.11M96.62,586.30h4.11M100.73,553.88h4.11M100.73,525.61h4.11M100.73,518.58h4.11M100.73,513.76h4.11M100.73,496.14h4.11M100.73,491.62h4.11M100.73,486.73h4.11M100.73,480.40h4.11M100.73,586.30h4.11M104.84,550.12h4.11M104.84,519.84h4.11M104.84,513.13h4.11M104.84,503.66h4.11M104.84,488.61h4.11M104.84,484.73h4.11M104.84,477.89h4.11M104.84,470.37h4.11M104.84,586.30h4.11M108.95,547.61h4.11M108.95,517.33h4.11M108.95,508.68h4.11M108.95,497.39h4.11M108.95,480.40h4.11M108.95,476.57h4.11M108.95,470.37h4.11M108.95,463.16h4.11M108.95,586.30h4.11M113.06,545.73h4.11M113.06,517.64h4.11M113.06,507.92h4.11M113.06,497.27h4.11M113.06,475.38h4.11M113.06,468.42h4.11M113.06,461.53h4.11M113.06,453.63h4.11M113.06,586.30h4.11M117.17,543.23h4.11M117.17,517.33h4.11M117.17,508.55h4.11M117.17,496.64h4.11M117.17,473.50h4.11M117.17,467.17h4.11M117.17,459.02h4.11M117.17,452.37h4.11M117.17,586.30h4.11M121.28,542.41h4.11M121.28,516.39h4.11M121.28,507.92h4.11M121.28,495.57h4.11M121.28,469.74h4.11M121.28,463.41h4.11M121.28,454.63h4.11M121.28,446.35h4.11M121.28,586.30h4.11M125.39,543.23h4.11M125.39,520.15h4.11M125.39,512.31h4.11M125.39,498.83h4.11M125.39,469.11h4.11M125.39,461.53h4.11M125.39,452.75h4.11M125.39,443.85h4.11M125.39,586.30h4.11M129.50,541.97h4.11M129.50,517.96h4.11M129.50,510.43h4.11M129.50,494.44h4.11M129.50,457.14h4.11M129.50,446.48h4.11M129.50,438.52h4.11M129.50,432.25h4.11M129.50,586.30h4.11M133.61,543.85h4.11M133.61,516.08h4.11M133.61,508.55h4.11M133.61,490.18h4.11M133.61,447.36h4.11M133.61,438.52h4.11M133.61,428.48h4.11M133.61,417.51h4.11M133.61,586.30h4.11M137.72,544.48h4.11M137.72,511.69h4.11M137.72,503.85h4.11M137.72,485.04h4.11M137.72,429.74h4.11M137.72,420.33h4.11M137.72,408.36h4.11M137.72,397.26h4.11M137.72,586.30h4.11M141.83,545.11h4.11M141.83,513.07h4.11M141.83,505.54h4.11M141.83,488.55h4.11M141.83,418.14h4.11M141.83,408.98h4.11M141.83,395.13h4.11M141.83,385.35h4.11M141.83,586.30h4.11M145.94,546.99h4.11M145.94,512.63h4.11M145.94,505.04h4.11M145.94,487.61h4.11M145.94,417.76h4.11M145.94,407.73h4.11M145.94,393.25h4.11M145.94,383.47h4.11M145.94,586.30h4.11M150.05,547.61h4.11M150.05,513.38h4.11M150.05,505.54h4.11M150.05,488.80h4.11M150.05,429.74h4.11M150.05,420.96h4.11M150.05,405.22h4.11M150.05,394.50h4.11M150.05,586.30h4.11M154.16,548.24h4.11M154.16,516.33h4.11M154.16,508.24h4.11M154.16,491.81h4.11M154.16,444.16h4.11M154.16,435.38h4.11M154.16,417.76h4.11M154.16,406.48h4.11M154.16,586.30h4.11M158.27,551.38h4.11M158.27,522.35h4.11M158.27,514.82h4.11M158.27,498.52h4.11M158.27,456.01h4.11M158.27,446.10h4.11M158.27,429.55h4.11M158.27,418.39h4.11M158.27,586.30h4.11M162.38,554.51h4.11M162.38,526.11h4.11M162.38,519.52h4.11M162.38,503.10h4.11M162.38,462.15h4.11M162.38,453.63h4.11M162.38,434.75h4.11M162.38,424.72h4.11M162.38,586.30h4.11M166.49,558.27h4.11M166.49,531.25h4.11M166.49,525.79h4.11M166.49,509.81h4.11M166.49,469.74h4.11M166.49,461.53h4.11M166.49,443.53h4.11M166.49,434.38h4.11M166.49,586.30h4.11M170.60,560.78h4.11M170.60,532.50h4.11M170.60,526.86h4.11M170.60,511.25h4.11M170.60,468.49h4.11M170.60,460.90h4.11M170.60,442.28h4.11M170.60,433.50h4.11M170.60,586.30h4.11M174.71,562.66h4.11M174.71,533.13h4.11M174.71,528.11h4.11M174.71,512.50h4.11M174.71,462.78h4.11M174.71,455.26h4.11M174.71,439.77h4.11M174.71,431.62h4.11M174.71,586.30h4.11M178.82,579.28h4.11M178.82,564.61h4.11M178.82,536.27h4.11M178.82,531.25h4.11M178.82,515.64h4.11M178.82,459.02h4.11M178.82,452.37h4.11M178.82,439.77h4.11M178.82,429.99h4.11M178.82,586.30h4.11M182.93,580.28h4.11M182.93,567.74h4.11M182.93,539.40h4.11M182.93,535.01h4.11M182.93,521.22h4.11M182.93,465.29h4.11M182.93,459.02h4.11M182.93,446.10h4.11M182.93,439.52h4.11M182.93,586.30h4.11M187.04,581.28h4.11M187.04,570.25h4.11M187.04,544.48h4.11M187.04,540.65h4.11M187.04,526.23h4.11M187.04,483.53h4.11M187.04,477.20h4.11M187.04,464.03h4.11M187.04,458.77h4.11M187.04,586.30h4.11M191.15,582.41h4.11M191.15,572.76h4.11M191.15,550.12h4.11M191.15,545.73h4.11M191.15,533.13h4.11M191.15,502.41h4.11M191.15,497.27h4.11M191.15,485.42h4.11M191.15,481.40h4.11M191.15,586.30h4.11M195.26,583.42h4.11M195.26,575.26h4.11M195.26,554.95h4.11M195.26,549.93h4.11M195.26,539.27h4.11M195.26,515.64h4.11M195.26,510.43h4.11M195.26,500.53h4.11M195.26,497.39h4.11M195.26,586.30h4.11M199.37,583.79h4.11M199.37,577.77h4.11M199.37,560.15h4.11M199.37,554.51h4.11M199.37,545.73h4.11M199.37,524.98h4.11M199.37,520.46h4.11M199.37,510.56h4.11M199.37,507.42h4.11M199.37,586.30h4.11M203.48,584.23h4.11M203.48,578.40h4.11M203.48,562.04h4.11M203.48,555.77h4.11M203.48,547.61h4.11M203.48,527.49h4.11M203.48,524.23h4.11M203.48,517.33h4.11M203.48,514.38h4.11M203.48,586.30h4.11M207.59,584.67h4.11M207.59,579.65h4.11M207.59,563.29h4.11M207.59,556.39h4.11M207.59,548.87h4.11M207.59,530.62h4.11M207.59,527.99h4.11M207.59,520.46h4.11M207.59,517.52h4.11M207.59,586.30h4.11M211.70,585.05h4.11M211.70,580.91h4.11M211.70,563.98h4.11M211.70,557.02h4.11M211.70,549.50h4.11M211.70,531.88h4.11M211.70,529.87h4.11M211.70,523.60h4.11M211.70,520.21h4.11M211.70,586.30h4.11M215.81,585.30h4.11M215.81,581.53h4.11M215.81,565.86h4.11M215.81,559.53h4.11M215.81,552.63h4.11M215.81,536.27h4.11M215.81,534.26h4.11M215.81,528.62h4.11M215.81,526.48h4.11M215.81,586.30h4.11M219.92,585.55h4.11M219.92,582.79h4.11M219.92,568.99h4.11M219.92,562.04h4.11M219.92,555.14h4.11M219.92,540.65h4.11M219.92,538.65h4.11M219.92,533.63h4.11M219.92,531.25h4.11M219.92,586.30h4.11M224.03,585.67h4.11M224.03,583.42h4.11M224.03,572.13h4.11M224.03,566.49h4.11M224.03,557.65h4.11M224.03,544.48h4.11M224.03,542.41h4.11M224.03,537.39h4.11M224.03,535.26h4.11M224.03,586.30h4.11M228.14,584.04h4.11M228.14,575.89h4.11M228.14,570.25h4.11M228.14,564.61h4.11M228.14,552.00h4.11M228.14,550.25h4.11M228.14,545.54h4.11M228.14,543.60h4.11M228.14,586.30h4.11M232.25,584.67h4.11M232.25,577.77h4.11M232.25,574.01h4.11M232.25,568.99h4.11M232.25,558.90h4.11M232.25,557.46h4.11M232.25,554.01h4.11M232.25,552.38h4.11M232.25,586.30h4.11M236.36,585.17h4.11M236.36,579.65h4.11M236.36,576.52h4.11M236.36,572.13h4.11M236.36,565.86h4.11M236.36,564.67h4.11M236.36,561.22h4.11M236.36,559.53h4.11M236.36,586.30h4.11M240.47,582.16h4.11M240.47,579.65h4.11M240.47,571.50h4.11M240.47,570.62h4.11M240.47,568.12h4.11M240.47,567.11h4.11M240.47,586.30h4.11M244.58,583.79h4.11M244.58,582.16h4.11M244.58,576.52h4.11M244.58,574.07h4.11M244.58,573.38h4.11M244.58,586.30h4.11M248.69,585.05h4.11M248.69,584.04h4.11M248.69,580.28h4.11M248.69,578.65h4.11M248.69,586.30h4.11M252.80,582.54h4.11M252.80,581.28h4.11M252.80,586.30h4.11M256.91,584.17h4.11M256.91,586.30h4.11M261.02,586.30h4.11M265.13,586.30h4.11M269.24,586.30h4.11M273.35,586.30h4.11M277.46,586.30h4.11M281.57,586.30h4.11" stroke="#000" stroke-width="0.5" fill="none"/>
<path d="M47.30,571.40h4.11M71.96,571.15h4.11M76.07,571.40h4.11M80.18,572.03h4.11M84.29,570.34h4.11M88.40,569.23h4.11M92.51,566.99h4.11M96.62,565.73h4.11M100.73,564.48h4.11M104.84,563.85h4.11M108.95,563.23h4.11M113.06,561.91h4.11M117.17,560.91h4.11M121.28,560.91h4.11M125.39,561.28h4.11M129.50,562.16h4.11M133.61,564.12h4.11M137.72,565.56h4.11M141.83,567.26h4.11M145.94,568.51h4.11M150.05,569.77h4.11M154.16,570.83h4.11M158.27,572.08h4.11M162.38,573.08h4.11M166.49,574.70h4.11M170.60,575.76h4.11M174.71,576.95h4.11M178.82,578.00h4.11M182.93,579.19h4.11M187.04,580.37h4.11M191.15,581.69h4.11" stroke="#000" stroke-width="0.9" fill="none"/>
<path d="M47.30,570.71h4.11M47.30,554.33h4.11M59.63,558.43h4.11M63.74,572.09h4.11M63.74,549.38h4.11M67.85,570.96h4.11M67.85,552.47h4.11M71.96,570.40h4.11M71.96,551.31h4.11M76.07,570.52h4.11M76.07,543.48h4.11M80.18,571.15h4.11M80.18,538.60h4.11M84.29,569.09h4.11M84.29,535.76h4.11M88.40,567.72h4.11M88.40,529.68h4.11M92.51,565.17h4.11M92.51,521.23h4.11M96.62,563.60h4.11M96.62,518.78h4.11M100.73,562.04h4.11M100.73,514.48h4.11M104.84,561.09h4.11M104.84,505.08h4.11M108.95,560.47h4.11M108.95,499.08h4.11M113.06,559.21h4.11M113.06,498.86h4.11M117.17,558.59h4.11M117.17,498.43h4.11M121.28,558.77h4.11M121.28,497.43h4.11M125.39,558.15h4.11M125.39,500.86h4.11M129.50,558.77h4.11M129.50,496.84h4.11M133.61,560.67h4.11M133.61,492.94h4.11M137.72,561.98h4.11M137.72,487.86h4.11M141.83,563.87h4.11M141.83,491.10h4.11M145.94,565.13h4.11M145.94,490.22h4.11M150.05,566.38h4.11M150.05,491.31h4.11M154.16,567.06h4.11M154.16,494.28h4.11M158.27,569.57h4.11M158.27,500.97h4.11M162.38,570.83h4.11M162.38,505.56h4.11M166.49,572.82h4.11M166.49,512.20h4.11M170.60,573.50h4.11M170.60,513.59h4.11M174.71,574.81h4.11M174.71,514.84h4.11M178.82,576.12h4.11M178.82,517.98h4.11M182.93,577.43h4.11M182.93,523.29h4.11M187.04,578.49h4.11M187.04,528.40h4.11M191.15,580.06h4.11M191.15,535.02h4.11M195.26,581.37h4.11M195.26,540.87h4.11M199.37,582.40h4.11M199.37,547.05h4.11M203.48,583.05h4.11M203.48,548.84h4.11M207.59,583.68h4.11M207.59,550.00h4.11M211.70,550.62h4.11M215.81,553.66h4.11M219.92,556.17h4.11M224.03,558.97h4.11M228.14,565.45h4.11M232.25,569.75h4.11M236.36,572.79h4.11M240.47,576.99h4.11M244.58,580.56h4.11M248.69,582.76h4.11M252.80,584.19h4.11" stroke="#000" stroke-width="0.4" fill="none"/>
<path d="M47.30,586.30v-53.80M51.41,586.30v-53.80M51.41,586.30v-17.56M55.52,586.30v-25.52M59.63,586.30v-32.04M63.74,586.30v-40.32M67.85,586.30v-40.32M67.85,586.30v-38.69M71.96,586.30v-40.94M76.07,586.30v-55.05M80.18,586.30v-67.03M84.29,586.30v-72.79M88.40,586.30v-79.88M92.51,586.30v-88.91M96.62,586.30v-99.57M100.73,586.30v-105.90M104.84,586.30v-115.93M108.95,586.30v-123.14M113.06,586.30v-132.67M117.17,586.30v-133.93M121.28,586.30v-139.95M125.39,586.30v-142.45M129.50,586.30v-154.05M133.61,586.30v-168.79M137.72,586.30v-189.04M141.83,586.30v-200.95M145.94,586.30v-202.83M150.05,586.30v-202.83M150.05,586.30v-191.80M154.16,586.30v-191.80M154.16,586.30v-179.82M158.27,586.30v-179.82M158.27,586.30v-167.91M162.38,586.30v-167.91M162.38,586.30v-161.58M166.49,586.30v-161.58M166.49,586.30v-151.92M170.60,586.30v-152.80M174.71,586.30v-154.68M178.82,586.30v-156.31M182.93,586.30v-156.31M182.93,586.30v-146.78M187.04,586.30v-146.78M187.04,586.30v-127.53M191.15,586.30v-127.53M191.15,586.30v-104.90M195.26,586.30v-104.90M195.26,586.30v-88.91M199.37,586.30v-88.91M199.37,586.30v-78.88M203.48,586.30v-78.88M203.48,586.30v-71.92M207.59,586.30v-71.92M207.59,586.30v-68.78M211.70,586.30v-68.78M211.70,586.30v-66.09M215.81,586.30v-66.09M215.81,586.30v-59.82M219.92,586.30v-59.82M219.92,586.30v-55.05M224.03,586.30v-55.05M224.03,586.30v-51.04M228.14,586.30v-51.04M228.14,586.30v-42.70M232.25,586.30v-42.70M232.25,586.30v-33.92M236.36,586.30v-33.92M236.36,586.30v-26.77M240.47,586.30v-26.77M240.47,586.30v-19.19M244.58,586.30v-19.19M244.58,586.30v-12.92M248.69,586.30v-12.92M248.69,586.30v-8.15M252.80,586.30v-8.15M252.80,586.30v-5.39M256.91,586.30v-5.39M256.91,586.30v-3.14M261.02,586.30v-3.14M261.02,586.30v-1.57M265.13,586.30v-1.57M265.13,586.30v-0.94M269.24,586.30v-0.94M269.24,586.30v-0.63M273.35,586.30v-0.63M273.35,586.30v-0.44M277.46,586.30v-0.44M277.46,586.30v-0.31M281.57,586.30v-0.31M281.57,586.30v-0.19M285.68,586.30v-0.19" stroke="#000" stroke-width="0.85" stroke-opacity="0.95" fill="none"/>
<path d="M37.5,373.3V596.65H287.1" stroke="#4a4a4a" stroke-width="0.9" fill="none"/>
<text x="27.1" y="589.8" font-size="10.2" text-anchor="end" fill="#444" textLength="6.2" lengthAdjust="spacingAndGlyphs">0</text>
<text x="27.1" y="527.0999999999999" font-size="10.2" text-anchor="end" fill="#444" textLength="6.2" lengthAdjust="spacingAndGlyphs">1</text>
<text x="27.1" y="464.4" font-size="10.2" text-anchor="end" fill="#444" textLength="6.2" lengthAdjust="spacingAndGlyphs">2</text>
<text x="27.1" y="401.69999999999993" font-size="10.2" text-anchor="end" fill="#444" textLength="6.2" lengthAdjust="spacingAndGlyphs">3</text>
<text x="49.055" y="616.7" font-size="10.2" text-anchor="middle" fill="#444" textLength="6.2" lengthAdjust="spacingAndGlyphs">0</text>
<text x="131.255" y="616.7" font-size="10.2" text-anchor="middle" fill="#444" textLength="12.2" lengthAdjust="spacingAndGlyphs">20</text>
<text x="213.45499999999998" y="616.7" font-size="10.2" text-anchor="middle" fill="#444" textLength="12.2" lengthAdjust="spacingAndGlyphs">40</text>
<path d="M32.3,586.30H37.5M32.3,523.60H37.5M32.3,460.90H37.5M32.3,398.20H37.5M49.45,596.65V601.9M131.66,596.65V601.9M213.85,596.65V601.9" stroke="#4a4a4a" stroke-width="0.9" fill="none"/>
<g><rect x="338.60" y="535.10" width="4.18" height="51.60" fill="#000004"/><rect x="338.60" y="540.55" width="4.18" height="46.15" fill="#0a0722"/><rect x="338.60" y="542.79" width="4.18" height="43.91" fill="#1e0c45"/><rect x="338.60" y="545.36" width="4.18" height="41.34" fill="#380962"/><rect x="338.60" y="555.29" width="4.18" height="31.41" fill="#510e6c"/><rect x="338.60" y="555.77" width="4.18" height="30.93" fill="#69166e"/><rect x="338.60" y="558.11" width="4.18" height="28.59" fill="#801f6c"/><rect x="338.60" y="558.50" width="4.18" height="28.20" fill="#982766"/><rect x="338.60" y="562.02" width="4.18" height="24.68" fill="#b0315b"/><rect x="338.60" y="571.32" width="4.18" height="15.38" fill="#c63d4d"/><rect x="338.60" y="573.97" width="4.18" height="12.73" fill="#e2573c"/><rect x="338.60" y="574.67" width="4.18" height="12.03" fill="#fa9709"/><rect x="338.60" y="575.42" width="4.18" height="11.28" fill="#f8cd37"/><rect x="342.73" y="569.20" width="4.18" height="17.50" fill="#000004"/><rect x="342.73" y="570.33" width="4.18" height="16.37" fill="#0a0722"/><rect x="342.73" y="570.95" width="4.18" height="15.75" fill="#1e0c45"/><rect x="342.73" y="571.39" width="4.18" height="15.31" fill="#380962"/><rect x="342.73" y="572.01" width="4.18" height="14.69" fill="#510e6c"/><rect x="342.73" y="572.11" width="4.18" height="14.59" fill="#69166e"/><rect x="342.73" y="572.56" width="4.18" height="14.14" fill="#801f6c"/><rect x="342.73" y="572.64" width="4.18" height="14.06" fill="#982766"/><rect x="342.73" y="573.45" width="4.18" height="13.25" fill="#b0315b"/><rect x="342.73" y="576.08" width="4.18" height="10.62" fill="#c63d4d"/><rect x="342.73" y="576.25" width="4.18" height="10.45" fill="#e2573c"/><rect x="342.73" y="576.43" width="4.18" height="10.27" fill="#fa9709"/><rect x="342.73" y="576.70" width="4.18" height="10.00" fill="#f8cd37"/><rect x="346.85" y="561.26" width="4.18" height="25.44" fill="#000004"/><rect x="346.85" y="565.45" width="4.18" height="21.25" fill="#0a0722"/><rect x="346.85" y="566.70" width="4.18" height="20.00" fill="#1e0c45"/><rect x="346.85" y="567.33" width="4.18" height="19.37" fill="#380962"/><rect x="346.85" y="567.95" width="4.18" height="18.75" fill="#510e6c"/><rect x="346.85" y="568.00" width="4.18" height="18.70" fill="#69166e"/><rect x="346.85" y="568.23" width="4.18" height="18.47" fill="#801f6c"/><rect x="346.85" y="568.26" width="4.18" height="18.44" fill="#982766"/><rect x="346.85" y="568.83" width="4.18" height="17.87" fill="#b0315b"/><rect x="346.85" y="575.45" width="4.18" height="11.25" fill="#c63d4d"/><rect x="346.85" y="575.63" width="4.18" height="11.07" fill="#e2573c"/><rect x="346.85" y="575.80" width="4.18" height="10.90" fill="#fa9709"/><rect x="346.85" y="576.08" width="4.18" height="10.62" fill="#f8cd37"/><rect x="350.98" y="553.94" width="4.18" height="32.76" fill="#000004"/><rect x="350.98" y="556.57" width="4.18" height="30.13" fill="#0a0722"/><rect x="350.98" y="557.21" width="4.18" height="29.49" fill="#1e0c45"/><rect x="350.98" y="557.53" width="4.18" height="29.17" fill="#380962"/><rect x="350.98" y="558.05" width="4.18" height="28.65" fill="#510e6c"/><rect x="350.98" y="558.21" width="4.18" height="28.49" fill="#69166e"/><rect x="350.98" y="559.01" width="4.18" height="27.69" fill="#801f6c"/><rect x="350.98" y="559.14" width="4.18" height="27.56" fill="#982766"/><rect x="350.98" y="559.97" width="4.18" height="26.73" fill="#b0315b"/><rect x="350.98" y="573.50" width="4.18" height="13.20" fill="#c63d4d"/><rect x="350.98" y="574.02" width="4.18" height="12.68" fill="#e2573c"/><rect x="350.98" y="574.41" width="4.18" height="12.29" fill="#fa9709"/><rect x="350.98" y="574.78" width="4.18" height="11.92" fill="#f8cd37"/><rect x="355.10" y="545.48" width="4.18" height="41.22" fill="#000004"/><rect x="355.10" y="547.60" width="4.18" height="39.10" fill="#0a0722"/><rect x="355.10" y="547.92" width="4.18" height="38.78" fill="#1e0c45"/><rect x="355.10" y="548.24" width="4.18" height="38.46" fill="#380962"/><rect x="355.10" y="548.69" width="4.18" height="38.01" fill="#510e6c"/><rect x="355.10" y="548.96" width="4.18" height="37.74" fill="#69166e"/><rect x="355.10" y="550.27" width="4.18" height="36.43" fill="#801f6c"/><rect x="355.10" y="550.48" width="4.18" height="36.22" fill="#982766"/><rect x="355.10" y="551.64" width="4.18" height="35.06" fill="#b0315b"/><rect x="355.10" y="570.93" width="4.18" height="15.77" fill="#c63d4d"/><rect x="355.10" y="572.17" width="4.18" height="14.53" fill="#e2573c"/><rect x="355.10" y="572.94" width="4.18" height="13.76" fill="#fa9709"/><rect x="355.10" y="573.50" width="4.18" height="13.20" fill="#f8cd37"/><rect x="359.23" y="547.15" width="4.18" height="39.55" fill="#000004"/><rect x="359.23" y="550.16" width="4.18" height="36.54" fill="#0a0722"/><rect x="359.23" y="550.80" width="4.18" height="35.90" fill="#1e0c45"/><rect x="359.23" y="551.12" width="4.18" height="35.58" fill="#380962"/><rect x="359.23" y="551.64" width="4.18" height="35.06" fill="#510e6c"/><rect x="359.23" y="552.12" width="4.18" height="34.58" fill="#69166e"/><rect x="359.23" y="554.46" width="4.18" height="32.24" fill="#801f6c"/><rect x="359.23" y="554.84" width="4.18" height="31.86" fill="#982766"/><rect x="359.23" y="557.41" width="4.18" height="29.29" fill="#b0315b"/><rect x="359.23" y="570.29" width="4.18" height="16.41" fill="#c63d4d"/><rect x="359.23" y="571.01" width="4.18" height="15.69" fill="#e2573c"/><rect x="359.23" y="571.66" width="4.18" height="15.04" fill="#fa9709"/><rect x="359.23" y="572.21" width="4.18" height="14.49" fill="#f8cd37"/><rect x="363.35" y="544.84" width="4.18" height="41.86" fill="#000004"/><rect x="363.35" y="548.88" width="4.18" height="37.82" fill="#0a0722"/><rect x="363.35" y="549.52" width="4.18" height="37.18" fill="#1e0c45"/><rect x="363.35" y="549.84" width="4.18" height="36.86" fill="#380962"/><rect x="363.35" y="550.36" width="4.18" height="36.34" fill="#510e6c"/><rect x="363.35" y="550.93" width="4.18" height="35.77" fill="#69166e"/><rect x="363.35" y="553.74" width="4.18" height="32.96" fill="#801f6c"/><rect x="363.35" y="554.20" width="4.18" height="32.50" fill="#982766"/><rect x="363.35" y="558.69" width="4.18" height="28.01" fill="#b0315b"/><rect x="363.35" y="569.65" width="4.18" height="17.05" fill="#c63d4d"/><rect x="363.35" y="570.44" width="4.18" height="16.26" fill="#e2573c"/><rect x="363.35" y="571.21" width="4.18" height="15.49" fill="#fa9709"/><rect x="363.35" y="571.96" width="4.18" height="14.74" fill="#f8cd37"/><rect x="367.48" y="530.42" width="4.18" height="56.28" fill="#000004"/><rect x="367.48" y="538.75" width="4.18" height="47.95" fill="#0a0722"/><rect x="367.48" y="539.91" width="4.18" height="46.79" fill="#1e0c45"/><rect x="367.48" y="540.55" width="4.18" height="46.15" fill="#380962"/><rect x="367.48" y="542.66" width="4.18" height="44.04" fill="#510e6c"/><rect x="367.48" y="542.92" width="4.18" height="43.78" fill="#69166e"/><rect x="367.48" y="544.19" width="4.18" height="42.51" fill="#801f6c"/><rect x="367.48" y="544.39" width="4.18" height="42.31" fill="#982766"/><rect x="367.48" y="547.15" width="4.18" height="39.55" fill="#b0315b"/><rect x="367.48" y="569.65" width="4.18" height="17.05" fill="#c63d4d"/><rect x="367.48" y="570.57" width="4.18" height="16.13" fill="#e2573c"/><rect x="367.48" y="571.47" width="4.18" height="15.23" fill="#fa9709"/><rect x="367.48" y="572.21" width="4.18" height="14.49" fill="#f8cd37"/><rect x="371.60" y="518.18" width="4.18" height="68.52" fill="#000004"/><rect x="371.60" y="526.45" width="4.18" height="60.25" fill="#0a0722"/><rect x="371.60" y="529.01" width="4.18" height="57.69" fill="#1e0c45"/><rect x="371.60" y="531.06" width="4.18" height="55.64" fill="#380962"/><rect x="371.60" y="536.63" width="4.18" height="50.07" fill="#510e6c"/><rect x="371.60" y="537.10" width="4.18" height="49.60" fill="#69166e"/><rect x="371.60" y="539.39" width="4.18" height="47.31" fill="#801f6c"/><rect x="371.60" y="539.76" width="4.18" height="46.94" fill="#982766"/><rect x="371.60" y="543.22" width="4.18" height="43.48" fill="#b0315b"/><rect x="371.60" y="570.01" width="4.18" height="16.69" fill="#c63d4d"/><rect x="371.60" y="570.95" width="4.18" height="15.75" fill="#e2573c"/><rect x="371.60" y="571.86" width="4.18" height="14.84" fill="#fa9709"/><rect x="371.60" y="572.62" width="4.18" height="14.08" fill="#f8cd37"/><rect x="375.73" y="512.28" width="4.18" height="74.42" fill="#000004"/><rect x="375.73" y="520.04" width="4.18" height="66.66" fill="#0a0722"/><rect x="375.73" y="523.88" width="4.18" height="62.82" fill="#1e0c45"/><rect x="375.73" y="527.09" width="4.18" height="59.61" fill="#380962"/><rect x="375.73" y="533.37" width="4.18" height="53.33" fill="#510e6c"/><rect x="375.73" y="534.16" width="4.18" height="52.54" fill="#69166e"/><rect x="375.73" y="537.96" width="4.18" height="48.74" fill="#801f6c"/><rect x="375.73" y="538.59" width="4.18" height="48.11" fill="#982766"/><rect x="375.73" y="544.52" width="4.18" height="42.18" fill="#b0315b"/><rect x="375.73" y="566.10" width="4.18" height="20.60" fill="#c63d4d"/><rect x="375.73" y="568.81" width="4.18" height="17.89" fill="#e2573c"/><rect x="375.73" y="570.11" width="4.18" height="16.59" fill="#fa9709"/><rect x="375.73" y="571.05" width="4.18" height="15.65" fill="#f8cd37"/><rect x="379.85" y="505.04" width="4.18" height="81.66" fill="#000004"/><rect x="379.85" y="512.34" width="4.18" height="74.36" fill="#0a0722"/><rect x="379.85" y="516.83" width="4.18" height="69.87" fill="#1e0c45"/><rect x="379.85" y="520.68" width="4.18" height="66.02" fill="#380962"/><rect x="379.85" y="526.86" width="4.18" height="59.84" fill="#510e6c"/><rect x="379.85" y="527.83" width="4.18" height="58.87" fill="#69166e"/><rect x="379.85" y="532.59" width="4.18" height="54.11" fill="#801f6c"/><rect x="379.85" y="533.37" width="4.18" height="53.33" fill="#982766"/><rect x="379.85" y="537.94" width="4.18" height="48.76" fill="#b0315b"/><rect x="379.85" y="563.49" width="4.18" height="23.21" fill="#c63d4d"/><rect x="379.85" y="567.38" width="4.18" height="19.32" fill="#e2573c"/><rect x="379.85" y="568.95" width="4.18" height="17.75" fill="#fa9709"/><rect x="379.85" y="570.27" width="4.18" height="16.43" fill="#f8cd37"/><rect x="383.98" y="495.81" width="4.18" height="90.89" fill="#000004"/><rect x="383.98" y="502.22" width="4.18" height="84.48" fill="#0a0722"/><rect x="383.98" y="507.22" width="4.18" height="79.48" fill="#1e0c45"/><rect x="383.98" y="511.25" width="4.18" height="75.45" fill="#380962"/><rect x="383.98" y="517.66" width="4.18" height="69.04" fill="#510e6c"/><rect x="383.98" y="519.04" width="4.18" height="67.66" fill="#69166e"/><rect x="383.98" y="525.75" width="4.18" height="60.95" fill="#801f6c"/><rect x="383.98" y="526.86" width="4.18" height="59.84" fill="#982766"/><rect x="383.98" y="533.37" width="4.18" height="53.33" fill="#b0315b"/><rect x="383.98" y="559.52" width="4.18" height="27.18" fill="#c63d4d"/><rect x="383.98" y="564.74" width="4.18" height="21.96" fill="#e2573c"/><rect x="383.98" y="566.63" width="4.18" height="20.07" fill="#fa9709"/><rect x="383.98" y="569.36" width="4.18" height="17.34" fill="#f8cd37"/><rect x="388.10" y="484.91" width="4.18" height="101.79" fill="#000004"/><rect x="388.10" y="492.60" width="4.18" height="94.10" fill="#0a0722"/><rect x="388.10" y="497.60" width="4.18" height="89.10" fill="#1e0c45"/><rect x="388.10" y="501.58" width="4.18" height="85.12" fill="#380962"/><rect x="388.10" y="515.84" width="4.18" height="70.86" fill="#510e6c"/><rect x="388.10" y="516.49" width="4.18" height="70.21" fill="#69166e"/><rect x="388.10" y="519.68" width="4.18" height="67.02" fill="#801f6c"/><rect x="388.10" y="520.21" width="4.18" height="66.49" fill="#982766"/><rect x="388.10" y="526.86" width="4.18" height="59.84" fill="#b0315b"/><rect x="388.10" y="555.60" width="4.18" height="31.10" fill="#c63d4d"/><rect x="388.10" y="563.11" width="4.18" height="23.59" fill="#e2573c"/><rect x="388.10" y="565.33" width="4.18" height="21.37" fill="#fa9709"/><rect x="388.10" y="568.71" width="4.18" height="17.99" fill="#f8cd37"/><rect x="392.23" y="478.44" width="4.18" height="108.26" fill="#000004"/><rect x="392.23" y="484.91" width="4.18" height="101.79" fill="#0a0722"/><rect x="392.23" y="489.91" width="4.18" height="96.79" fill="#1e0c45"/><rect x="392.23" y="494.52" width="4.18" height="92.18" fill="#380962"/><rect x="392.23" y="511.28" width="4.18" height="75.42" fill="#510e6c"/><rect x="392.23" y="512.03" width="4.18" height="74.67" fill="#69166e"/><rect x="392.23" y="515.69" width="4.18" height="71.01" fill="#801f6c"/><rect x="392.23" y="516.30" width="4.18" height="70.40" fill="#982766"/><rect x="392.23" y="523.60" width="4.18" height="63.10" fill="#b0315b"/><rect x="392.23" y="553.00" width="4.18" height="33.70" fill="#c63d4d"/><rect x="392.23" y="561.48" width="4.18" height="25.22" fill="#e2573c"/><rect x="392.23" y="564.03" width="4.18" height="22.67" fill="#fa9709"/><rect x="392.23" y="568.06" width="4.18" height="18.64" fill="#f8cd37"/><rect x="396.35" y="468.18" width="4.18" height="118.52" fill="#000004"/><rect x="396.35" y="475.87" width="4.18" height="110.83" fill="#0a0722"/><rect x="396.35" y="482.86" width="4.18" height="103.84" fill="#1e0c45"/><rect x="396.35" y="486.83" width="4.18" height="99.87" fill="#380962"/><rect x="396.35" y="500.78" width="4.18" height="85.92" fill="#510e6c"/><rect x="396.35" y="502.26" width="4.18" height="84.44" fill="#69166e"/><rect x="396.35" y="509.44" width="4.18" height="77.26" fill="#801f6c"/><rect x="396.35" y="510.62" width="4.18" height="76.08" fill="#982766"/><rect x="396.35" y="517.60" width="4.18" height="69.10" fill="#b0315b"/><rect x="396.35" y="549.09" width="4.18" height="37.61" fill="#c63d4d"/><rect x="396.35" y="560.51" width="4.18" height="26.19" fill="#e2573c"/><rect x="396.35" y="563.38" width="4.18" height="23.32" fill="#fa9709"/><rect x="396.35" y="567.40" width="4.18" height="19.30" fill="#f8cd37"/><rect x="400.48" y="460.81" width="4.18" height="125.89" fill="#000004"/><rect x="400.48" y="468.18" width="4.18" height="118.52" fill="#0a0722"/><rect x="400.48" y="474.53" width="4.18" height="112.17" fill="#1e0c45"/><rect x="400.48" y="478.44" width="4.18" height="108.26" fill="#380962"/><rect x="400.48" y="494.26" width="4.18" height="92.44" fill="#510e6c"/><rect x="400.48" y="496.02" width="4.18" height="90.68" fill="#69166e"/><rect x="400.48" y="504.59" width="4.18" height="82.11" fill="#801f6c"/><rect x="400.48" y="506.00" width="4.18" height="80.70" fill="#982766"/><rect x="400.48" y="514.99" width="4.18" height="71.71" fill="#b0315b"/><rect x="400.48" y="546.48" width="4.18" height="40.22" fill="#c63d4d"/><rect x="400.48" y="559.85" width="4.18" height="26.85" fill="#e2573c"/><rect x="400.48" y="562.72" width="4.18" height="23.98" fill="#fa9709"/><rect x="400.48" y="566.10" width="4.18" height="20.60" fill="#f8cd37"/><rect x="404.60" y="451.06" width="4.18" height="135.64" fill="#000004"/><rect x="404.60" y="459.14" width="4.18" height="127.56" fill="#0a0722"/><rect x="404.60" y="466.19" width="4.18" height="120.51" fill="#1e0c45"/><rect x="404.60" y="473.31" width="4.18" height="113.39" fill="#380962"/><rect x="404.60" y="494.13" width="4.18" height="92.57" fill="#510e6c"/><rect x="404.60" y="495.79" width="4.18" height="90.91" fill="#69166e"/><rect x="404.60" y="503.88" width="4.18" height="82.82" fill="#801f6c"/><rect x="404.60" y="505.21" width="4.18" height="81.49" fill="#982766"/><rect x="404.60" y="515.32" width="4.18" height="71.38" fill="#b0315b"/><rect x="404.60" y="544.52" width="4.18" height="42.18" fill="#c63d4d"/><rect x="404.60" y="558.55" width="4.18" height="28.15" fill="#e2573c"/><rect x="404.60" y="561.35" width="4.18" height="25.35" fill="#fa9709"/><rect x="404.60" y="565.06" width="4.18" height="21.64" fill="#f8cd37"/><rect x="408.73" y="449.78" width="4.18" height="136.92" fill="#000004"/><rect x="408.73" y="456.58" width="4.18" height="130.12" fill="#0a0722"/><rect x="408.73" y="464.91" width="4.18" height="121.79" fill="#1e0c45"/><rect x="408.73" y="471.38" width="4.18" height="115.32" fill="#380962"/><rect x="408.73" y="493.48" width="4.18" height="93.22" fill="#510e6c"/><rect x="408.73" y="495.34" width="4.18" height="91.36" fill="#69166e"/><rect x="408.73" y="504.38" width="4.18" height="82.32" fill="#801f6c"/><rect x="408.73" y="505.86" width="4.18" height="80.84" fill="#982766"/><rect x="408.73" y="514.99" width="4.18" height="71.71" fill="#b0315b"/><rect x="408.73" y="541.91" width="4.18" height="44.79" fill="#c63d4d"/><rect x="408.73" y="557.90" width="4.18" height="28.80" fill="#e2573c"/><rect x="408.73" y="560.31" width="4.18" height="26.39" fill="#fa9709"/><rect x="408.73" y="564.14" width="4.18" height="22.56" fill="#f8cd37"/><rect x="412.85" y="443.63" width="4.18" height="143.07" fill="#000004"/><rect x="412.85" y="452.09" width="4.18" height="134.61" fill="#0a0722"/><rect x="412.85" y="461.06" width="4.18" height="125.64" fill="#1e0c45"/><rect x="412.85" y="467.54" width="4.18" height="119.16" fill="#380962"/><rect x="412.85" y="492.37" width="4.18" height="94.33" fill="#510e6c"/><rect x="412.85" y="494.30" width="4.18" height="92.40" fill="#69166e"/><rect x="412.85" y="503.67" width="4.18" height="83.03" fill="#801f6c"/><rect x="412.85" y="505.21" width="4.18" height="81.49" fill="#982766"/><rect x="412.85" y="514.01" width="4.18" height="72.69" fill="#b0315b"/><rect x="412.85" y="541.07" width="4.18" height="45.63" fill="#c63d4d"/><rect x="412.85" y="558.09" width="4.18" height="28.61" fill="#e2573c"/><rect x="412.85" y="560.31" width="4.18" height="26.39" fill="#fa9709"/><rect x="412.85" y="563.23" width="4.18" height="23.47" fill="#f8cd37"/><rect x="416.98" y="441.06" width="4.18" height="145.64" fill="#000004"/><rect x="416.98" y="450.17" width="4.18" height="136.53" fill="#0a0722"/><rect x="416.98" y="459.14" width="4.18" height="127.56" fill="#1e0c45"/><rect x="416.98" y="466.90" width="4.18" height="119.80" fill="#380962"/><rect x="416.98" y="495.76" width="4.18" height="90.94" fill="#510e6c"/><rect x="416.98" y="497.86" width="4.18" height="88.84" fill="#69166e"/><rect x="416.98" y="508.09" width="4.18" height="78.61" fill="#801f6c"/><rect x="416.98" y="509.78" width="4.18" height="76.92" fill="#982766"/><rect x="416.98" y="517.92" width="4.18" height="68.78" fill="#b0315b"/><rect x="416.98" y="541.91" width="4.18" height="44.79" fill="#c63d4d"/><rect x="416.98" y="557.44" width="4.18" height="29.26" fill="#e2573c"/><rect x="416.98" y="560.70" width="4.18" height="26.00" fill="#fa9709"/><rect x="416.98" y="563.23" width="4.18" height="23.47" fill="#f8cd37"/><rect x="421.10" y="429.21" width="4.18" height="157.49" fill="#000004"/><rect x="421.10" y="435.62" width="4.18" height="151.08" fill="#0a0722"/><rect x="421.10" y="443.76" width="4.18" height="142.94" fill="#1e0c45"/><rect x="421.10" y="454.65" width="4.18" height="132.05" fill="#380962"/><rect x="421.10" y="491.20" width="4.18" height="95.50" fill="#510e6c"/><rect x="421.10" y="493.69" width="4.18" height="93.01" fill="#69166e"/><rect x="421.10" y="505.83" width="4.18" height="80.87" fill="#801f6c"/><rect x="421.10" y="507.82" width="4.18" height="78.88" fill="#982766"/><rect x="421.10" y="515.64" width="4.18" height="71.06" fill="#b0315b"/><rect x="421.10" y="540.61" width="4.18" height="46.09" fill="#c63d4d"/><rect x="421.10" y="558.09" width="4.18" height="28.61" fill="#e2573c"/><rect x="421.10" y="561.62" width="4.18" height="25.08" fill="#fa9709"/><rect x="421.10" y="564.14" width="4.18" height="22.56" fill="#f8cd37"/><rect x="425.23" y="414.14" width="4.18" height="172.56" fill="#000004"/><rect x="425.23" y="425.36" width="4.18" height="161.34" fill="#0a0722"/><rect x="425.23" y="435.62" width="4.18" height="151.08" fill="#1e0c45"/><rect x="425.23" y="444.65" width="4.18" height="142.05" fill="#380962"/><rect x="425.23" y="486.76" width="4.18" height="99.94" fill="#510e6c"/><rect x="425.23" y="489.63" width="4.18" height="97.07" fill="#69166e"/><rect x="425.23" y="503.57" width="4.18" height="83.13" fill="#801f6c"/><rect x="425.23" y="505.86" width="4.18" height="80.84" fill="#982766"/><rect x="425.23" y="513.69" width="4.18" height="73.01" fill="#b0315b"/><rect x="425.23" y="542.57" width="4.18" height="44.13" fill="#c63d4d"/><rect x="425.23" y="560.06" width="4.18" height="26.64" fill="#e2573c"/><rect x="425.23" y="563.64" width="4.18" height="23.06" fill="#fa9709"/><rect x="425.23" y="566.10" width="4.18" height="20.60" fill="#f8cd37"/><rect x="429.35" y="393.44" width="4.18" height="193.26" fill="#000004"/><rect x="429.35" y="404.78" width="4.18" height="181.92" fill="#0a0722"/><rect x="429.35" y="417.03" width="4.18" height="169.67" fill="#1e0c45"/><rect x="429.35" y="426.64" width="4.18" height="160.06" fill="#380962"/><rect x="429.35" y="481.42" width="4.18" height="105.28" fill="#510e6c"/><rect x="429.35" y="484.35" width="4.18" height="102.35" fill="#69166e"/><rect x="429.35" y="498.63" width="4.18" height="88.07" fill="#801f6c"/><rect x="429.35" y="500.98" width="4.18" height="85.72" fill="#982766"/><rect x="429.35" y="509.12" width="4.18" height="77.58" fill="#b0315b"/><rect x="429.35" y="543.22" width="4.18" height="43.48" fill="#c63d4d"/><rect x="429.35" y="561.42" width="4.18" height="25.28" fill="#e2573c"/><rect x="429.35" y="565.14" width="4.18" height="21.56" fill="#fa9709"/><rect x="429.35" y="567.40" width="4.18" height="19.30" fill="#f8cd37"/><rect x="433.48" y="384.96" width="4.18" height="201.74" fill="#000004"/><rect x="433.48" y="394.78" width="4.18" height="191.92" fill="#0a0722"/><rect x="433.48" y="408.69" width="4.18" height="178.01" fill="#1e0c45"/><rect x="433.48" y="417.88" width="4.18" height="168.82" fill="#380962"/><rect x="433.48" y="486.90" width="4.18" height="99.80" fill="#510e6c"/><rect x="433.48" y="489.50" width="4.18" height="97.20" fill="#69166e"/><rect x="433.48" y="502.17" width="4.18" height="84.53" fill="#801f6c"/><rect x="433.48" y="504.25" width="4.18" height="82.45" fill="#982766"/><rect x="433.48" y="511.93" width="4.18" height="74.77" fill="#b0315b"/><rect x="433.48" y="544.64" width="4.18" height="42.06" fill="#c63d4d"/><rect x="433.48" y="563.80" width="4.18" height="22.90" fill="#e2573c"/><rect x="433.48" y="567.26" width="4.18" height="19.44" fill="#fa9709"/><rect x="433.48" y="569.67" width="4.18" height="17.03" fill="#f8cd37"/><rect x="437.60" y="382.86" width="4.18" height="203.84" fill="#000004"/><rect x="437.60" y="392.69" width="4.18" height="194.01" fill="#0a0722"/><rect x="437.60" y="407.25" width="4.18" height="179.45" fill="#1e0c45"/><rect x="437.60" y="417.33" width="4.18" height="169.37" fill="#380962"/><rect x="437.60" y="485.84" width="4.18" height="100.86" fill="#510e6c"/><rect x="437.60" y="488.51" width="4.18" height="98.19" fill="#69166e"/><rect x="437.60" y="501.51" width="4.18" height="85.19" fill="#801f6c"/><rect x="437.60" y="503.65" width="4.18" height="83.05" fill="#982766"/><rect x="437.60" y="511.40" width="4.18" height="75.30" fill="#b0315b"/><rect x="437.60" y="546.52" width="4.18" height="40.18" fill="#c63d4d"/><rect x="437.60" y="565.06" width="4.18" height="21.64" fill="#e2573c"/><rect x="437.60" y="568.52" width="4.18" height="18.18" fill="#fa9709"/><rect x="437.60" y="570.94" width="4.18" height="15.76" fill="#f8cd37"/><rect x="441.73" y="391.99" width="4.18" height="194.71" fill="#000004"/><rect x="441.73" y="402.88" width="4.18" height="183.82" fill="#0a0722"/><rect x="441.73" y="418.85" width="4.18" height="167.85" fill="#1e0c45"/><rect x="441.73" y="427.76" width="4.18" height="158.94" fill="#380962"/><rect x="441.73" y="486.04" width="4.18" height="100.66" fill="#510e6c"/><rect x="441.73" y="488.63" width="4.18" height="98.07" fill="#69166e"/><rect x="441.73" y="501.25" width="4.18" height="85.45" fill="#801f6c"/><rect x="441.73" y="503.32" width="4.18" height="83.38" fill="#982766"/><rect x="441.73" y="511.42" width="4.18" height="75.28" fill="#b0315b"/><rect x="441.73" y="546.76" width="4.18" height="39.94" fill="#c63d4d"/><rect x="441.73" y="566.13" width="4.18" height="20.57" fill="#e2573c"/><rect x="441.73" y="569.63" width="4.18" height="17.07" fill="#fa9709"/><rect x="441.73" y="572.07" width="4.18" height="14.63" fill="#f8cd37"/><rect x="445.85" y="402.86" width="4.18" height="183.84" fill="#000004"/><rect x="445.85" y="414.40" width="4.18" height="172.30" fill="#0a0722"/><rect x="445.85" y="432.41" width="4.18" height="154.29" fill="#1e0c45"/><rect x="445.85" y="441.39" width="4.18" height="145.31" fill="#380962"/><rect x="445.85" y="488.46" width="4.18" height="98.24" fill="#510e6c"/><rect x="445.85" y="491.02" width="4.18" height="95.68" fill="#69166e"/><rect x="445.85" y="503.49" width="4.18" height="83.21" fill="#801f6c"/><rect x="445.85" y="505.54" width="4.18" height="81.16" fill="#982766"/><rect x="445.85" y="513.95" width="4.18" height="72.75" fill="#b0315b"/><rect x="445.85" y="547.13" width="4.18" height="39.57" fill="#c63d4d"/><rect x="445.85" y="566.70" width="4.18" height="20.00" fill="#e2573c"/><rect x="445.85" y="570.61" width="4.18" height="16.09" fill="#fa9709"/><rect x="445.85" y="572.88" width="4.18" height="13.82" fill="#f8cd37"/><rect x="449.98" y="415.04" width="4.18" height="171.66" fill="#000004"/><rect x="449.98" y="426.45" width="4.18" height="160.25" fill="#0a0722"/><rect x="449.98" y="443.37" width="4.18" height="143.33" fill="#1e0c45"/><rect x="449.98" y="453.50" width="4.18" height="133.20" fill="#380962"/><rect x="449.98" y="495.43" width="4.18" height="91.27" fill="#510e6c"/><rect x="449.98" y="497.98" width="4.18" height="88.72" fill="#69166e"/><rect x="449.98" y="510.35" width="4.18" height="76.35" fill="#801f6c"/><rect x="449.98" y="512.38" width="4.18" height="74.32" fill="#982766"/><rect x="449.98" y="520.21" width="4.18" height="66.49" fill="#b0315b"/><rect x="449.98" y="550.39" width="4.18" height="36.31" fill="#c63d4d"/><rect x="449.98" y="569.31" width="4.18" height="17.39" fill="#e2573c"/><rect x="449.98" y="571.91" width="4.18" height="14.79" fill="#fa9709"/><rect x="449.98" y="574.18" width="4.18" height="12.52" fill="#f8cd37"/><rect x="454.10" y="421.51" width="4.18" height="165.19" fill="#000004"/><rect x="454.10" y="431.77" width="4.18" height="154.93" fill="#0a0722"/><rect x="454.10" y="451.06" width="4.18" height="135.64" fill="#1e0c45"/><rect x="454.10" y="459.78" width="4.18" height="126.92" fill="#380962"/><rect x="454.10" y="500.19" width="4.18" height="86.51" fill="#510e6c"/><rect x="454.10" y="502.76" width="4.18" height="83.94" fill="#69166e"/><rect x="454.10" y="515.22" width="4.18" height="71.48" fill="#801f6c"/><rect x="454.10" y="517.27" width="4.18" height="69.43" fill="#982766"/><rect x="454.10" y="524.12" width="4.18" height="62.58" fill="#b0315b"/><rect x="454.10" y="553.65" width="4.18" height="33.05" fill="#c63d4d"/><rect x="454.10" y="570.61" width="4.18" height="16.09" fill="#e2573c"/><rect x="454.10" y="572.96" width="4.18" height="13.74" fill="#fa9709"/><rect x="454.10" y="575.23" width="4.18" height="11.47" fill="#f8cd37"/><rect x="458.23" y="431.39" width="4.18" height="155.31" fill="#000004"/><rect x="458.23" y="440.74" width="4.18" height="145.96" fill="#0a0722"/><rect x="458.23" y="459.14" width="4.18" height="127.56" fill="#1e0c45"/><rect x="458.23" y="467.54" width="4.18" height="119.16" fill="#380962"/><rect x="458.23" y="507.17" width="4.18" height="79.53" fill="#510e6c"/><rect x="458.23" y="509.66" width="4.18" height="77.04" fill="#69166e"/><rect x="458.23" y="521.80" width="4.18" height="64.90" fill="#801f6c"/><rect x="458.23" y="523.79" width="4.18" height="62.91" fill="#982766"/><rect x="458.23" y="529.46" width="4.18" height="57.24" fill="#b0315b"/><rect x="458.23" y="557.56" width="4.18" height="29.14" fill="#c63d4d"/><rect x="458.23" y="572.68" width="4.18" height="14.02" fill="#e2573c"/><rect x="458.23" y="574.64" width="4.18" height="12.06" fill="#fa9709"/><rect x="458.23" y="576.53" width="4.18" height="10.17" fill="#f8cd37"/><rect x="462.35" y="430.49" width="4.18" height="156.21" fill="#000004"/><rect x="462.35" y="439.46" width="4.18" height="147.24" fill="#0a0722"/><rect x="462.35" y="458.50" width="4.18" height="128.20" fill="#1e0c45"/><rect x="462.35" y="466.26" width="4.18" height="120.44" fill="#380962"/><rect x="462.35" y="508.67" width="4.18" height="78.03" fill="#510e6c"/><rect x="462.35" y="511.10" width="4.18" height="75.60" fill="#69166e"/><rect x="462.35" y="522.95" width="4.18" height="63.75" fill="#801f6c"/><rect x="462.35" y="524.90" width="4.18" height="61.80" fill="#982766"/><rect x="462.35" y="530.77" width="4.18" height="55.93" fill="#b0315b"/><rect x="462.35" y="560.17" width="4.18" height="26.53" fill="#c63d4d"/><rect x="462.35" y="573.39" width="4.18" height="13.31" fill="#e2573c"/><rect x="462.35" y="575.74" width="4.18" height="10.96" fill="#fa9709"/><rect x="462.35" y="577.44" width="4.18" height="9.26" fill="#f8cd37"/><rect x="466.48" y="428.57" width="4.18" height="158.13" fill="#000004"/><rect x="466.48" y="436.90" width="4.18" height="149.80" fill="#0a0722"/><rect x="466.48" y="452.73" width="4.18" height="133.97" fill="#1e0c45"/><rect x="466.48" y="460.42" width="4.18" height="126.28" fill="#380962"/><rect x="466.48" y="509.97" width="4.18" height="76.73" fill="#510e6c"/><rect x="466.48" y="512.41" width="4.18" height="74.29" fill="#69166e"/><rect x="466.48" y="524.26" width="4.18" height="62.44" fill="#801f6c"/><rect x="466.48" y="526.20" width="4.18" height="60.50" fill="#982766"/><rect x="466.48" y="531.42" width="4.18" height="55.28" fill="#b0315b"/><rect x="466.48" y="562.12" width="4.18" height="24.58" fill="#c63d4d"/><rect x="466.48" y="574.76" width="4.18" height="11.94" fill="#e2573c"/><rect x="466.48" y="576.97" width="4.18" height="9.73" fill="#fa9709"/><rect x="466.48" y="578.49" width="4.18" height="8.21" fill="#f8cd37"/><rect x="470.60" y="426.90" width="4.18" height="159.80" fill="#000004"/><rect x="470.60" y="436.90" width="4.18" height="149.80" fill="#0a0722"/><rect x="470.60" y="449.78" width="4.18" height="136.92" fill="#1e0c45"/><rect x="470.60" y="456.58" width="4.18" height="130.12" fill="#380962"/><rect x="470.60" y="513.23" width="4.18" height="73.47" fill="#510e6c"/><rect x="470.60" y="515.67" width="4.18" height="71.03" fill="#69166e"/><rect x="470.60" y="527.52" width="4.18" height="59.18" fill="#801f6c"/><rect x="470.60" y="529.46" width="4.18" height="57.24" fill="#982766"/><rect x="470.60" y="534.68" width="4.18" height="52.02" fill="#b0315b"/><rect x="470.60" y="564.14" width="4.18" height="22.56" fill="#c63d4d"/><rect x="470.60" y="576.12" width="4.18" height="10.58" fill="#e2573c"/><rect x="470.60" y="578.08" width="4.18" height="8.62" fill="#fa9709"/><rect x="470.60" y="579.40" width="4.18" height="7.30" fill="#f8cd37"/><rect x="474.73" y="436.64" width="4.18" height="150.06" fill="#000004"/><rect x="474.73" y="443.37" width="4.18" height="143.33" fill="#0a0722"/><rect x="474.73" y="456.58" width="4.18" height="130.12" fill="#1e0c45"/><rect x="474.73" y="462.99" width="4.18" height="123.71" fill="#380962"/><rect x="474.73" y="519.03" width="4.18" height="67.67" fill="#510e6c"/><rect x="474.73" y="521.18" width="4.18" height="65.52" fill="#69166e"/><rect x="474.73" y="531.65" width="4.18" height="55.05" fill="#801f6c"/><rect x="474.73" y="533.37" width="4.18" height="53.33" fill="#982766"/><rect x="474.73" y="537.94" width="4.18" height="48.76" fill="#b0315b"/><rect x="474.73" y="567.40" width="4.18" height="19.30" fill="#c63d4d"/><rect x="474.73" y="577.48" width="4.18" height="9.22" fill="#e2573c"/><rect x="474.73" y="579.31" width="4.18" height="7.39" fill="#fa9709"/><rect x="474.73" y="580.44" width="4.18" height="6.26" fill="#f8cd37"/><rect x="478.85" y="456.32" width="4.18" height="130.38" fill="#000004"/><rect x="478.85" y="461.71" width="4.18" height="124.99" fill="#0a0722"/><rect x="478.85" y="475.17" width="4.18" height="111.53" fill="#1e0c45"/><rect x="478.85" y="481.64" width="4.18" height="105.06" fill="#380962"/><rect x="478.85" y="524.25" width="4.18" height="62.45" fill="#510e6c"/><rect x="478.85" y="526.50" width="4.18" height="60.20" fill="#69166e"/><rect x="478.85" y="537.44" width="4.18" height="49.26" fill="#801f6c"/><rect x="478.85" y="539.24" width="4.18" height="47.46" fill="#982766"/><rect x="478.85" y="543.22" width="4.18" height="43.48" fill="#b0315b"/><rect x="478.85" y="570.01" width="4.18" height="16.69" fill="#c63d4d"/><rect x="478.85" y="578.58" width="4.18" height="8.12" fill="#e2573c"/><rect x="478.85" y="580.54" width="4.18" height="6.16" fill="#fa9709"/><rect x="478.85" y="581.48" width="4.18" height="5.22" fill="#f8cd37"/><rect x="482.98" y="479.46" width="4.18" height="107.24" fill="#000004"/><rect x="482.98" y="483.56" width="4.18" height="103.14" fill="#0a0722"/><rect x="482.98" y="495.68" width="4.18" height="91.02" fill="#1e0c45"/><rect x="482.98" y="500.93" width="4.18" height="85.77" fill="#380962"/><rect x="482.98" y="531.42" width="4.18" height="55.28" fill="#510e6c"/><rect x="482.98" y="533.38" width="4.18" height="53.32" fill="#69166e"/><rect x="482.98" y="542.95" width="4.18" height="43.75" fill="#801f6c"/><rect x="482.98" y="544.52" width="4.18" height="42.18" fill="#982766"/><rect x="482.98" y="549.09" width="4.18" height="37.61" fill="#b0315b"/><rect x="482.98" y="572.62" width="4.18" height="14.08" fill="#c63d4d"/><rect x="482.98" y="580.21" width="4.18" height="6.49" fill="#e2573c"/><rect x="482.98" y="581.90" width="4.18" height="4.80" fill="#fa9709"/><rect x="482.98" y="582.66" width="4.18" height="4.04" fill="#f8cd37"/><rect x="487.10" y="495.81" width="4.18" height="90.89" fill="#000004"/><rect x="487.10" y="499.01" width="4.18" height="87.69" fill="#0a0722"/><rect x="487.10" y="509.14" width="4.18" height="77.56" fill="#1e0c45"/><rect x="487.10" y="514.46" width="4.18" height="72.24" fill="#380962"/><rect x="487.10" y="537.81" width="4.18" height="48.89" fill="#510e6c"/><rect x="487.10" y="539.47" width="4.18" height="47.23" fill="#69166e"/><rect x="487.10" y="547.56" width="4.18" height="39.14" fill="#801f6c"/><rect x="487.10" y="548.89" width="4.18" height="37.81" fill="#982766"/><rect x="487.10" y="554.11" width="4.18" height="32.59" fill="#b0315b"/><rect x="487.10" y="575.23" width="4.18" height="11.47" fill="#c63d4d"/><rect x="487.10" y="581.57" width="4.18" height="5.13" fill="#e2573c"/><rect x="487.10" y="583.13" width="4.18" height="3.57" fill="#fa9709"/><rect x="487.10" y="583.70" width="4.18" height="3.00" fill="#f8cd37"/><rect x="491.23" y="506.06" width="4.18" height="80.64" fill="#000004"/><rect x="491.23" y="509.27" width="4.18" height="77.43" fill="#0a0722"/><rect x="491.23" y="519.40" width="4.18" height="67.30" fill="#1e0c45"/><rect x="491.23" y="524.01" width="4.18" height="62.69" fill="#380962"/><rect x="491.23" y="544.52" width="4.18" height="42.18" fill="#510e6c"/><rect x="491.23" y="545.89" width="4.18" height="40.81" fill="#69166e"/><rect x="491.23" y="552.55" width="4.18" height="34.15" fill="#801f6c"/><rect x="491.23" y="553.65" width="4.18" height="33.05" fill="#982766"/><rect x="491.23" y="559.52" width="4.18" height="27.18" fill="#b0315b"/><rect x="491.23" y="577.83" width="4.18" height="8.87" fill="#c63d4d"/><rect x="491.23" y="582.64" width="4.18" height="4.06" fill="#e2573c"/><rect x="491.23" y="583.62" width="4.18" height="3.08" fill="#fa9709"/><rect x="491.23" y="584.09" width="4.18" height="2.61" fill="#f8cd37"/><rect x="495.35" y="513.18" width="4.18" height="73.52" fill="#000004"/><rect x="495.35" y="516.19" width="4.18" height="70.51" fill="#0a0722"/><rect x="495.35" y="523.24" width="4.18" height="63.46" fill="#1e0c45"/><rect x="495.35" y="526.57" width="4.18" height="60.13" fill="#380962"/><rect x="495.35" y="546.48" width="4.18" height="40.22" fill="#510e6c"/><rect x="495.35" y="547.75" width="4.18" height="38.95" fill="#69166e"/><rect x="495.35" y="553.94" width="4.18" height="32.76" fill="#801f6c"/><rect x="495.35" y="554.95" width="4.18" height="31.75" fill="#982766"/><rect x="495.35" y="561.47" width="4.18" height="25.23" fill="#b0315b"/><rect x="495.35" y="578.49" width="4.18" height="8.21" fill="#c63d4d"/><rect x="495.35" y="583.32" width="4.18" height="3.38" fill="#e2573c"/><rect x="495.35" y="584.17" width="4.18" height="2.53" fill="#fa9709"/><rect x="495.35" y="584.55" width="4.18" height="2.15" fill="#f8cd37"/><rect x="499.48" y="516.38" width="4.18" height="70.32" fill="#000004"/><rect x="499.48" y="519.40" width="4.18" height="67.30" fill="#0a0722"/><rect x="499.48" y="527.09" width="4.18" height="59.61" fill="#1e0c45"/><rect x="499.48" y="529.78" width="4.18" height="56.92" fill="#380962"/><rect x="499.48" y="547.78" width="4.18" height="38.92" fill="#510e6c"/><rect x="499.48" y="548.96" width="4.18" height="37.74" fill="#69166e"/><rect x="499.48" y="554.67" width="4.18" height="32.03" fill="#801f6c"/><rect x="499.48" y="555.60" width="4.18" height="31.10" fill="#982766"/><rect x="499.48" y="562.78" width="4.18" height="23.92" fill="#b0315b"/><rect x="499.48" y="579.79" width="4.18" height="6.91" fill="#c63d4d"/><rect x="499.48" y="583.98" width="4.18" height="2.72" fill="#e2573c"/><rect x="499.48" y="584.63" width="4.18" height="2.07" fill="#fa9709"/><rect x="499.48" y="585.01" width="4.18" height="1.69" fill="#f8cd37"/><rect x="503.60" y="519.14" width="4.18" height="67.56" fill="#000004"/><rect x="503.60" y="522.60" width="4.18" height="64.10" fill="#0a0722"/><rect x="503.60" y="529.01" width="4.18" height="57.69" fill="#1e0c45"/><rect x="503.60" y="531.06" width="4.18" height="55.64" fill="#380962"/><rect x="503.60" y="548.43" width="4.18" height="38.27" fill="#510e6c"/><rect x="503.60" y="549.61" width="4.18" height="37.09" fill="#69166e"/><rect x="503.60" y="555.32" width="4.18" height="31.38" fill="#801f6c"/><rect x="503.60" y="556.26" width="4.18" height="30.44" fill="#982766"/><rect x="503.60" y="563.49" width="4.18" height="23.21" fill="#b0315b"/><rect x="503.60" y="581.09" width="4.18" height="5.61" fill="#c63d4d"/><rect x="503.60" y="584.53" width="4.18" height="2.17" fill="#e2573c"/><rect x="503.60" y="585.11" width="4.18" height="1.59" fill="#fa9709"/><rect x="503.60" y="585.40" width="4.18" height="1.30" fill="#f8cd37"/><rect x="507.73" y="525.55" width="4.18" height="61.15" fill="#000004"/><rect x="507.73" y="527.73" width="4.18" height="58.97" fill="#0a0722"/><rect x="507.73" y="533.50" width="4.18" height="53.20" fill="#1e0c45"/><rect x="507.73" y="535.55" width="4.18" height="51.15" fill="#380962"/><rect x="507.73" y="551.69" width="4.18" height="35.01" fill="#510e6c"/><rect x="507.73" y="552.77" width="4.18" height="33.93" fill="#69166e"/><rect x="507.73" y="558.00" width="4.18" height="28.70" fill="#801f6c"/><rect x="507.73" y="558.86" width="4.18" height="27.84" fill="#982766"/><rect x="507.73" y="565.45" width="4.18" height="21.25" fill="#b0315b"/><rect x="507.73" y="581.75" width="4.18" height="4.95" fill="#c63d4d"/><rect x="507.73" y="584.92" width="4.18" height="1.78" fill="#e2573c"/><rect x="507.73" y="585.37" width="4.18" height="1.33" fill="#fa9709"/><rect x="507.73" y="585.66" width="4.18" height="1.04" fill="#f8cd37"/><rect x="511.85" y="530.42" width="4.18" height="56.28" fill="#000004"/><rect x="511.85" y="532.86" width="4.18" height="53.84" fill="#0a0722"/><rect x="511.85" y="537.98" width="4.18" height="48.72" fill="#1e0c45"/><rect x="511.85" y="540.04" width="4.18" height="46.66" fill="#380962"/><rect x="511.85" y="554.30" width="4.18" height="32.40" fill="#510e6c"/><rect x="511.85" y="555.38" width="4.18" height="31.32" fill="#69166e"/><rect x="511.85" y="560.61" width="4.18" height="26.09" fill="#801f6c"/><rect x="511.85" y="561.47" width="4.18" height="25.23" fill="#982766"/><rect x="511.85" y="568.71" width="4.18" height="17.99" fill="#b0315b"/><rect x="511.85" y="583.05" width="4.18" height="3.65" fill="#c63d4d"/><rect x="511.85" y="585.34" width="4.18" height="1.36" fill="#e2573c"/><rect x="511.85" y="585.73" width="4.18" height="0.97" fill="#fa9709"/><rect x="511.85" y="585.92" width="4.18" height="0.78" fill="#f8cd37"/><rect x="515.98" y="534.52" width="4.18" height="52.18" fill="#000004"/><rect x="515.98" y="536.70" width="4.18" height="50.00" fill="#0a0722"/><rect x="515.98" y="541.83" width="4.18" height="44.87" fill="#1e0c45"/><rect x="515.98" y="543.95" width="4.18" height="42.75" fill="#380962"/><rect x="515.98" y="556.91" width="4.18" height="29.79" fill="#510e6c"/><rect x="515.98" y="558.29" width="4.18" height="28.41" fill="#69166e"/><rect x="515.98" y="565.00" width="4.18" height="21.70" fill="#801f6c"/><rect x="515.98" y="566.10" width="4.18" height="20.60" fill="#982766"/><rect x="515.98" y="571.97" width="4.18" height="14.73" fill="#b0315b"/><rect x="515.98" y="583.70" width="4.18" height="3.00" fill="#c63d4d"/><rect x="515.98" y="585.60" width="4.18" height="1.10" fill="#e2573c"/><rect x="515.98" y="585.86" width="4.18" height="0.84" fill="#fa9709"/><rect x="515.98" y="586.05" width="4.18" height="0.65" fill="#f8cd37"/><rect x="520.10" y="543.05" width="4.18" height="43.65" fill="#000004"/><rect x="520.10" y="545.04" width="4.18" height="41.66" fill="#0a0722"/><rect x="520.10" y="549.84" width="4.18" height="36.86" fill="#1e0c45"/><rect x="520.10" y="551.64" width="4.18" height="35.06" fill="#380962"/><rect x="520.10" y="564.14" width="4.18" height="22.56" fill="#510e6c"/><rect x="520.10" y="565.02" width="4.18" height="21.68" fill="#69166e"/><rect x="520.10" y="569.31" width="4.18" height="17.39" fill="#801f6c"/><rect x="520.10" y="570.01" width="4.18" height="16.69" fill="#982766"/><rect x="520.10" y="575.88" width="4.18" height="10.82" fill="#b0315b"/><rect x="520.10" y="584.35" width="4.18" height="2.35" fill="#c63d4d"/><rect x="520.10" y="585.89" width="4.18" height="0.81" fill="#e2573c"/><rect x="520.10" y="586.08" width="4.18" height="0.62" fill="#fa9709"/><rect x="520.10" y="586.18" width="4.18" height="0.52" fill="#f8cd37"/><rect x="524.23" y="552.02" width="4.18" height="34.68" fill="#000004"/><rect x="524.23" y="553.69" width="4.18" height="33.01" fill="#0a0722"/><rect x="524.23" y="557.21" width="4.18" height="29.49" fill="#1e0c45"/><rect x="524.23" y="558.69" width="4.18" height="28.01" fill="#380962"/><rect x="524.23" y="568.71" width="4.18" height="17.99" fill="#510e6c"/><rect x="524.23" y="569.49" width="4.18" height="17.21" fill="#69166e"/><rect x="524.23" y="573.30" width="4.18" height="13.40" fill="#801f6c"/><rect x="524.23" y="573.92" width="4.18" height="12.78" fill="#982766"/><rect x="524.23" y="577.83" width="4.18" height="8.87" fill="#b0315b"/><rect x="524.23" y="585.01" width="4.18" height="1.69" fill="#c63d4d"/><rect x="524.23" y="586.02" width="4.18" height="0.68" fill="#e2573c"/><rect x="524.23" y="586.21" width="4.18" height="0.49" fill="#fa9709"/><rect x="524.23" y="586.31" width="4.18" height="0.39" fill="#f8cd37"/><rect x="528.35" y="559.33" width="4.18" height="27.37" fill="#000004"/><rect x="528.35" y="561.06" width="4.18" height="25.64" fill="#0a0722"/><rect x="528.35" y="564.59" width="4.18" height="22.11" fill="#1e0c45"/><rect x="528.35" y="565.80" width="4.18" height="20.90" fill="#380962"/><rect x="528.35" y="571.97" width="4.18" height="14.73" fill="#510e6c"/><rect x="528.35" y="572.65" width="4.18" height="14.05" fill="#69166e"/><rect x="528.35" y="575.98" width="4.18" height="10.72" fill="#801f6c"/><rect x="528.35" y="576.53" width="4.18" height="10.17" fill="#982766"/><rect x="528.35" y="579.79" width="4.18" height="6.91" fill="#b0315b"/><rect x="528.35" y="585.53" width="4.18" height="1.17" fill="#c63d4d"/><rect x="528.35" y="586.21" width="4.18" height="0.49" fill="#e2573c"/><rect x="528.35" y="586.34" width="4.18" height="0.36" fill="#fa9709"/><rect x="528.35" y="586.44" width="4.18" height="0.26" fill="#f8cd37"/><rect x="532.48" y="567.09" width="4.18" height="19.61" fill="#000004"/><rect x="532.48" y="568.11" width="4.18" height="18.59" fill="#0a0722"/><rect x="532.48" y="570.68" width="4.18" height="16.02" fill="#1e0c45"/><rect x="532.48" y="571.57" width="4.18" height="15.13" fill="#380962"/><rect x="532.48" y="576.53" width="4.18" height="10.17" fill="#510e6c"/><rect x="532.48" y="577.02" width="4.18" height="9.68" fill="#69166e"/><rect x="532.48" y="579.40" width="4.18" height="7.30" fill="#801f6c"/><rect x="532.48" y="579.79" width="4.18" height="6.91" fill="#982766"/><rect x="532.48" y="582.40" width="4.18" height="4.30" fill="#b0315b"/><rect x="532.48" y="585.92" width="4.18" height="0.78" fill="#c63d4d"/><rect x="532.48" y="586.34" width="4.18" height="0.36" fill="#e2573c"/><rect x="532.48" y="586.41" width="4.18" height="0.29" fill="#fa9709"/><rect x="532.48" y="586.50" width="4.18" height="0.20" fill="#f8cd37"/><rect x="536.60" y="573.50" width="4.18" height="13.20" fill="#000004"/><rect x="536.60" y="574.20" width="4.18" height="12.50" fill="#0a0722"/><rect x="536.60" y="576.12" width="4.18" height="10.58" fill="#1e0c45"/><rect x="536.60" y="576.70" width="4.18" height="10.00" fill="#380962"/><rect x="536.60" y="580.44" width="4.18" height="6.26" fill="#510e6c"/><rect x="536.60" y="580.74" width="4.18" height="5.96" fill="#69166e"/><rect x="536.60" y="582.16" width="4.18" height="4.54" fill="#801f6c"/><rect x="536.60" y="582.40" width="4.18" height="4.30" fill="#982766"/><rect x="536.60" y="584.09" width="4.18" height="2.61" fill="#b0315b"/><rect x="536.60" y="586.18" width="4.18" height="0.52" fill="#c63d4d"/><rect x="536.60" y="586.49" width="4.18" height="0.21" fill="#e2573c"/><rect x="536.60" y="586.52" width="4.18" height="0.18" fill="#fa9709"/><rect x="536.60" y="586.57" width="4.18" height="0.13" fill="#f8cd37"/><rect x="540.73" y="578.37" width="4.18" height="8.33" fill="#000004"/><rect x="540.73" y="578.88" width="4.18" height="7.82" fill="#0a0722"/><rect x="540.73" y="580.16" width="4.18" height="6.54" fill="#1e0c45"/><rect x="540.73" y="580.55" width="4.18" height="6.15" fill="#380962"/><rect x="540.73" y="582.79" width="4.18" height="3.91" fill="#510e6c"/><rect x="540.73" y="583.02" width="4.18" height="3.68" fill="#69166e"/><rect x="540.73" y="584.17" width="4.18" height="2.53" fill="#801f6c"/><rect x="540.73" y="584.35" width="4.18" height="2.35" fill="#982766"/><rect x="540.73" y="585.40" width="4.18" height="1.30" fill="#b0315b"/><rect x="540.73" y="586.37" width="4.18" height="0.33" fill="#c63d4d"/><rect x="540.73" y="586.55" width="4.18" height="0.15" fill="#e2573c"/><rect x="540.73" y="586.59" width="4.18" height="0.11" fill="#fa9709"/><rect x="540.73" y="586.63" width="4.18" height="0.07" fill="#f8cd37"/><rect x="544.85" y="581.19" width="4.18" height="5.51" fill="#000004"/><rect x="544.85" y="581.57" width="4.18" height="5.13" fill="#0a0722"/><rect x="544.85" y="582.60" width="4.18" height="4.10" fill="#1e0c45"/><rect x="544.85" y="582.85" width="4.18" height="3.85" fill="#380962"/><rect x="544.85" y="584.35" width="4.18" height="2.35" fill="#510e6c"/><rect x="544.85" y="584.51" width="4.18" height="2.19" fill="#69166e"/><rect x="544.85" y="585.27" width="4.18" height="1.43" fill="#801f6c"/><rect x="544.85" y="585.40" width="4.18" height="1.30" fill="#982766"/><rect x="544.85" y="585.98" width="4.18" height="0.72" fill="#b0315b"/><rect x="544.85" y="586.50" width="4.18" height="0.20" fill="#c63d4d"/><rect x="544.85" y="586.63" width="4.18" height="0.07" fill="#f8cd37"/><rect x="548.98" y="583.50" width="4.18" height="3.21" fill="#000004"/><rect x="548.98" y="583.75" width="4.18" height="2.95" fill="#0a0722"/><rect x="548.98" y="584.33" width="4.18" height="2.37" fill="#1e0c45"/><rect x="548.98" y="584.52" width="4.18" height="2.18" fill="#380962"/><rect x="548.98" y="585.40" width="4.18" height="1.30" fill="#510e6c"/><rect x="548.98" y="585.48" width="4.18" height="1.22" fill="#69166e"/><rect x="548.98" y="585.91" width="4.18" height="0.79" fill="#801f6c"/><rect x="548.98" y="585.98" width="4.18" height="0.72" fill="#982766"/><rect x="548.98" y="586.31" width="4.18" height="0.39" fill="#b0315b"/><rect x="548.98" y="586.57" width="4.18" height="0.13" fill="#c63d4d"/><rect x="548.98" y="586.67" width="4.18" height="0.03" fill="#f8cd37"/><rect x="553.10" y="585.10" width="4.18" height="1.60" fill="#000004"/><rect x="553.10" y="585.23" width="4.18" height="1.47" fill="#0a0722"/><rect x="553.10" y="585.48" width="4.18" height="1.22" fill="#1e0c45"/><rect x="553.10" y="585.61" width="4.18" height="1.09" fill="#380962"/><rect x="553.10" y="586.05" width="4.18" height="0.65" fill="#510e6c"/><rect x="553.10" y="586.09" width="4.18" height="0.61" fill="#69166e"/><rect x="553.10" y="586.28" width="4.18" height="0.42" fill="#801f6c"/><rect x="553.10" y="586.31" width="4.18" height="0.39" fill="#982766"/><rect x="553.10" y="586.50" width="4.18" height="0.20" fill="#b0315b"/><rect x="557.23" y="585.74" width="4.18" height="0.96" fill="#000004"/><rect x="561.35" y="586.06" width="4.18" height="0.64" fill="#000004"/><rect x="565.48" y="586.25" width="4.18" height="0.45" fill="#000004"/><rect x="569.60" y="586.38" width="4.18" height="0.32" fill="#000004"/><rect x="573.73" y="586.49" width="4.18" height="0.21" fill="#000004"/></g>
<path d="M338.60,575.42h4.12M338.60,571.32h4.12M338.60,562.02h4.12M338.60,558.50h4.12M338.60,545.36h4.12M338.60,542.79h4.12M338.60,540.55h4.12M338.60,535.10h4.12M338.60,586.70h4.12M342.73,576.70h4.12M342.73,573.45h4.12M342.73,572.64h4.12M342.73,571.39h4.12M342.73,570.33h4.12M342.73,569.20h4.12M342.73,586.70h4.12M346.85,576.08h4.12M346.85,568.83h4.12M346.85,567.33h4.12M346.85,566.70h4.12M346.85,565.45h4.12M346.85,561.26h4.12M346.85,586.70h4.12M350.98,574.78h4.12M350.98,559.97h4.12M350.98,559.14h4.12M350.98,556.57h4.12M350.98,553.94h4.12M350.98,586.70h4.12M355.10,573.50h4.12M355.10,570.93h4.12M355.10,551.64h4.12M355.10,550.48h4.12M355.10,545.48h4.12M355.10,586.70h4.12M359.23,572.21h4.12M359.23,570.29h4.12M359.23,557.41h4.12M359.23,554.84h4.12M359.23,550.16h4.12M359.23,547.15h4.12M359.23,586.70h4.12M363.35,571.96h4.12M363.35,569.65h4.12M363.35,558.69h4.12M363.35,554.20h4.12M363.35,548.88h4.12M363.35,544.84h4.12M363.35,586.70h4.12M367.48,572.21h4.12M367.48,569.65h4.12M367.48,547.15h4.12M367.48,544.39h4.12M367.48,540.55h4.12M367.48,539.91h4.12M367.48,538.75h4.12M367.48,530.42h4.12M367.48,586.70h4.12M371.60,572.62h4.12M371.60,570.01h4.12M371.60,543.22h4.12M371.60,539.76h4.12M371.60,531.06h4.12M371.60,529.01h4.12M371.60,526.45h4.12M371.60,518.18h4.12M371.60,586.70h4.12M375.73,571.05h4.12M375.73,566.10h4.12M375.73,544.52h4.12M375.73,538.59h4.12M375.73,533.37h4.12M375.73,527.09h4.12M375.73,523.88h4.12M375.73,520.04h4.12M375.73,512.28h4.12M375.73,586.70h4.12M379.85,570.27h4.12M379.85,563.49h4.12M379.85,537.94h4.12M379.85,533.37h4.12M379.85,526.86h4.12M379.85,520.68h4.12M379.85,516.83h4.12M379.85,512.34h4.12M379.85,505.04h4.12M379.85,586.70h4.12M383.98,559.52h4.12M383.98,533.37h4.12M383.98,526.86h4.12M383.98,517.66h4.12M383.98,511.25h4.12M383.98,507.22h4.12M383.98,502.22h4.12M383.98,495.81h4.12M383.98,586.70h4.12M388.10,555.60h4.12M388.10,526.86h4.12M388.10,520.21h4.12M388.10,515.84h4.12M388.10,501.58h4.12M388.10,497.60h4.12M388.10,492.60h4.12M388.10,484.91h4.12M388.10,586.70h4.12M392.23,553.00h4.12M392.23,523.60h4.12M392.23,516.30h4.12M392.23,511.28h4.12M392.23,494.52h4.12M392.23,489.91h4.12M392.23,484.91h4.12M392.23,478.44h4.12M392.23,586.70h4.12M396.35,549.09h4.12M396.35,517.60h4.12M396.35,510.62h4.12M396.35,500.78h4.12M396.35,486.83h4.12M396.35,482.86h4.12M396.35,475.87h4.12M396.35,468.18h4.12M396.35,586.70h4.12M400.48,546.48h4.12M400.48,514.99h4.12M400.48,506.00h4.12M400.48,494.26h4.12M400.48,478.44h4.12M400.48,474.53h4.12M400.48,468.18h4.12M400.48,460.81h4.12M400.48,586.70h4.12M404.60,544.52h4.12M404.60,515.32h4.12M404.60,505.21h4.12M404.60,494.13h4.12M404.60,473.31h4.12M404.60,466.19h4.12M404.60,459.14h4.12M404.60,451.06h4.12M404.60,586.70h4.12M408.73,541.91h4.12M408.73,514.99h4.12M408.73,505.86h4.12M408.73,493.48h4.12M408.73,471.38h4.12M408.73,464.91h4.12M408.73,456.58h4.12M408.73,449.78h4.12M408.73,586.70h4.12M412.85,541.07h4.12M412.85,514.01h4.12M412.85,505.21h4.12M412.85,492.37h4.12M412.85,467.54h4.12M412.85,461.06h4.12M412.85,452.09h4.12M412.85,443.63h4.12M412.85,586.70h4.12M416.98,541.91h4.12M416.98,517.92h4.12M416.98,509.78h4.12M416.98,495.76h4.12M416.98,466.90h4.12M416.98,459.14h4.12M416.98,450.17h4.12M416.98,441.06h4.12M416.98,586.70h4.12M421.10,540.61h4.12M421.10,515.64h4.12M421.10,507.82h4.12M421.10,491.20h4.12M421.10,454.65h4.12M421.10,443.76h4.12M421.10,435.62h4.12M421.10,429.21h4.12M421.10,586.70h4.12M425.23,542.57h4.12M425.23,513.69h4.12M425.23,505.86h4.12M425.23,486.76h4.12M425.23,444.65h4.12M425.23,435.62h4.12M425.23,425.36h4.12M425.23,414.14h4.12M425.23,586.70h4.12M429.35,543.22h4.12M429.35,509.12h4.12M429.35,500.98h4.12M429.35,481.42h4.12M429.35,426.64h4.12M429.35,417.03h4.12M429.35,404.78h4.12M429.35,393.44h4.12M429.35,586.70h4.12M433.48,544.64h4.12M433.48,511.93h4.12M433.48,504.25h4.12M433.48,486.90h4.12M433.48,417.88h4.12M433.48,408.69h4.12M433.48,394.78h4.12M433.48,384.96h4.12M433.48,586.70h4.12M437.60,546.52h4.12M437.60,511.40h4.12M437.60,503.65h4.12M437.60,485.84h4.12M437.60,417.33h4.12M437.60,407.25h4.12M437.60,392.69h4.12M437.60,382.86h4.12M437.60,586.70h4.12M441.73,546.76h4.12M441.73,511.42h4.12M441.73,503.32h4.12M441.73,486.04h4.12M441.73,427.76h4.12M441.73,418.85h4.12M441.73,402.88h4.12M441.73,391.99h4.12M441.73,586.70h4.12M445.85,547.13h4.12M445.85,513.95h4.12M445.85,505.54h4.12M445.85,488.46h4.12M445.85,441.39h4.12M445.85,432.41h4.12M445.85,414.40h4.12M445.85,402.86h4.12M445.85,586.70h4.12M449.98,550.39h4.12M449.98,520.21h4.12M449.98,512.38h4.12M449.98,495.43h4.12M449.98,453.50h4.12M449.98,443.37h4.12M449.98,426.45h4.12M449.98,415.04h4.12M449.98,586.70h4.12M454.10,553.65h4.12M454.10,524.12h4.12M454.10,517.27h4.12M454.10,500.19h4.12M454.10,459.78h4.12M454.10,451.06h4.12M454.10,431.77h4.12M454.10,421.51h4.12M454.10,586.70h4.12M458.23,557.56h4.12M458.23,529.46h4.12M458.23,523.79h4.12M458.23,507.17h4.12M458.23,467.54h4.12M458.23,459.14h4.12M458.23,440.74h4.12M458.23,431.39h4.12M458.23,586.70h4.12M462.35,560.17h4.12M462.35,530.77h4.12M462.35,524.90h4.12M462.35,508.67h4.12M462.35,466.26h4.12M462.35,458.50h4.12M462.35,439.46h4.12M462.35,430.49h4.12M462.35,586.70h4.12M466.48,562.12h4.12M466.48,531.42h4.12M466.48,526.20h4.12M466.48,509.97h4.12M466.48,460.42h4.12M466.48,452.73h4.12M466.48,436.90h4.12M466.48,428.57h4.12M466.48,586.70h4.12M470.60,579.40h4.12M470.60,564.14h4.12M470.60,534.68h4.12M470.60,529.46h4.12M470.60,513.23h4.12M470.60,456.58h4.12M470.60,449.78h4.12M470.60,436.90h4.12M470.60,426.90h4.12M470.60,586.70h4.12M474.73,580.44h4.12M474.73,567.40h4.12M474.73,537.94h4.12M474.73,533.37h4.12M474.73,519.03h4.12M474.73,462.99h4.12M474.73,456.58h4.12M474.73,443.37h4.12M474.73,436.64h4.12M474.73,586.70h4.12M478.85,581.48h4.12M478.85,570.01h4.12M478.85,543.22h4.12M478.85,539.24h4.12M478.85,524.25h4.12M478.85,481.64h4.12M478.85,475.17h4.12M478.85,461.71h4.12M478.85,456.32h4.12M478.85,586.70h4.12M482.98,582.66h4.12M482.98,572.62h4.12M482.98,549.09h4.12M482.98,544.52h4.12M482.98,531.42h4.12M482.98,500.93h4.12M482.98,495.68h4.12M482.98,483.56h4.12M482.98,479.46h4.12M482.98,586.70h4.12M487.10,583.70h4.12M487.10,575.23h4.12M487.10,554.11h4.12M487.10,548.89h4.12M487.10,537.81h4.12M487.10,514.46h4.12M487.10,509.14h4.12M487.10,499.01h4.12M487.10,495.81h4.12M487.10,586.70h4.12M491.23,584.09h4.12M491.23,577.83h4.12M491.23,559.52h4.12M491.23,553.65h4.12M491.23,544.52h4.12M491.23,524.01h4.12M491.23,519.40h4.12M491.23,509.27h4.12M491.23,506.06h4.12M491.23,586.70h4.12M495.35,584.55h4.12M495.35,578.49h4.12M495.35,561.47h4.12M495.35,554.95h4.12M495.35,546.48h4.12M495.35,526.57h4.12M495.35,523.24h4.12M495.35,516.19h4.12M495.35,513.18h4.12M495.35,586.70h4.12M499.48,585.01h4.12M499.48,579.79h4.12M499.48,562.78h4.12M499.48,555.60h4.12M499.48,547.78h4.12M499.48,529.78h4.12M499.48,527.09h4.12M499.48,519.40h4.12M499.48,516.38h4.12M499.48,586.70h4.12M503.60,585.40h4.12M503.60,581.09h4.12M503.60,563.49h4.12M503.60,556.26h4.12M503.60,548.43h4.12M503.60,531.06h4.12M503.60,529.01h4.12M503.60,522.60h4.12M503.60,519.14h4.12M503.60,586.70h4.12M507.73,585.66h4.12M507.73,581.75h4.12M507.73,565.45h4.12M507.73,558.86h4.12M507.73,551.69h4.12M507.73,535.55h4.12M507.73,533.50h4.12M507.73,527.73h4.12M507.73,525.55h4.12M507.73,586.70h4.12M511.85,585.92h4.12M511.85,583.05h4.12M511.85,568.71h4.12M511.85,561.47h4.12M511.85,554.30h4.12M511.85,540.04h4.12M511.85,537.98h4.12M511.85,532.86h4.12M511.85,530.42h4.12M511.85,586.70h4.12M515.98,586.05h4.12M515.98,583.70h4.12M515.98,571.97h4.12M515.98,566.10h4.12M515.98,556.91h4.12M515.98,543.95h4.12M515.98,541.83h4.12M515.98,536.70h4.12M515.98,534.52h4.12M515.98,586.70h4.12M520.10,584.35h4.12M520.10,575.88h4.12M520.10,570.01h4.12M520.10,564.14h4.12M520.10,551.64h4.12M520.10,549.84h4.12M520.10,545.04h4.12M520.10,543.05h4.12M520.10,586.70h4.12M524.23,585.01h4.12M524.23,577.83h4.12M524.23,573.92h4.12M524.23,568.71h4.12M524.23,558.69h4.12M524.23,557.21h4.12M524.23,553.69h4.12M524.23,552.02h4.12M524.23,586.70h4.12M528.35,585.53h4.12M528.35,579.79h4.12M528.35,576.53h4.12M528.35,571.97h4.12M528.35,565.80h4.12M528.35,564.59h4.12M528.35,561.06h4.12M528.35,559.33h4.12M528.35,586.70h4.12M532.48,582.40h4.12M532.48,579.79h4.12M532.48,571.57h4.12M532.48,570.68h4.12M532.48,568.11h4.12M532.48,567.09h4.12M532.48,586.70h4.12M536.60,584.09h4.12M536.60,582.40h4.12M536.60,576.70h4.12M536.60,574.20h4.12M536.60,573.50h4.12M536.60,586.70h4.12M540.73,585.40h4.12M540.73,584.35h4.12M540.73,580.55h4.12M540.73,578.88h4.12M540.73,586.70h4.12M544.85,582.85h4.12M544.85,581.57h4.12M544.85,586.70h4.12M548.98,584.52h4.12M548.98,586.70h4.12M553.10,586.70h4.12M557.23,586.70h4.12M561.35,586.70h4.12M565.48,586.70h4.12M569.60,586.70h4.12M573.73,586.70h4.12" stroke="#000" stroke-width="0.5" fill="none"/>
<path d="M338.60,574.67h4.12M363.35,571.21h4.12M367.48,571.47h4.12M371.60,571.86h4.12M375.73,570.11h4.12M379.85,568.95h4.12M383.98,566.63h4.12M388.10,565.33h4.12M392.23,564.03h4.12M396.35,563.38h4.12M400.48,562.72h4.12M404.60,561.35h4.12M408.73,560.31h4.12M412.85,560.31h4.12M416.98,560.70h4.12M421.10,561.62h4.12M425.23,563.64h4.12M429.35,565.14h4.12M433.48,567.26h4.12M437.60,568.52h4.12M441.73,569.63h4.12M445.85,570.61h4.12M449.98,571.91h4.12M454.10,572.96h4.12M458.23,574.64h4.12M462.35,575.74h4.12M466.48,576.97h4.12M470.60,578.08h4.12M474.73,579.31h4.12M478.85,580.54h4.12M482.98,581.90h4.12" stroke="#000" stroke-width="0.9" fill="none"/>
<path d="M338.60,573.97h4.12M338.60,555.77h4.12M350.98,558.21h4.12M355.10,572.17h4.12M355.10,548.96h4.12M359.23,571.01h4.12M359.23,552.12h4.12M363.35,570.44h4.12M363.35,550.93h4.12M367.48,570.57h4.12M367.48,542.92h4.12M371.60,570.95h4.12M371.60,537.10h4.12M375.73,568.81h4.12M375.73,534.16h4.12M379.85,567.38h4.12M379.85,527.83h4.12M383.98,564.74h4.12M383.98,519.04h4.12M388.10,563.11h4.12M388.10,516.49h4.12M392.23,561.48h4.12M392.23,512.03h4.12M396.35,560.51h4.12M396.35,502.26h4.12M400.48,559.85h4.12M400.48,496.02h4.12M404.60,558.55h4.12M404.60,495.79h4.12M408.73,557.90h4.12M408.73,495.34h4.12M412.85,558.09h4.12M412.85,494.30h4.12M416.98,557.44h4.12M416.98,497.86h4.12M421.10,558.09h4.12M421.10,493.69h4.12M425.23,560.06h4.12M425.23,489.63h4.12M429.35,561.42h4.12M429.35,484.35h4.12M433.48,563.80h4.12M433.48,489.50h4.12M437.60,565.06h4.12M437.60,488.51h4.12M441.73,566.13h4.12M441.73,488.63h4.12M445.85,566.70h4.12M445.85,491.02h4.12M449.98,569.31h4.12M449.98,497.98h4.12M454.10,570.61h4.12M454.10,502.76h4.12M458.23,572.68h4.12M458.23,509.66h4.12M462.35,573.39h4.12M462.35,511.10h4.12M466.48,574.76h4.12M466.48,512.41h4.12M470.60,576.12h4.12M470.60,515.67h4.12M474.73,577.48h4.12M474.73,521.18h4.12M478.85,578.58h4.12M478.85,526.50h4.12M482.98,580.21h4.12M482.98,533.38h4.12M487.10,581.57h4.12M487.10,539.47h4.12M491.23,582.64h4.12M491.23,545.89h4.12M495.35,583.32h4.12M495.35,547.75h4.12M499.48,583.98h4.12M499.48,548.96h4.12M503.60,549.61h4.12M507.73,552.77h4.12M511.85,555.38h4.12M515.98,558.29h4.12M520.10,565.02h4.12M524.23,569.49h4.12M528.35,572.65h4.12M532.48,577.02h4.12M536.60,580.74h4.12M540.73,583.02h4.12M544.85,584.51h4.12" stroke="#000" stroke-width="0.4" fill="none"/>
<path d="M338.60,586.70v-51.60M342.73,586.70v-51.60M342.73,586.70v-17.50M346.85,586.70v-25.44M350.98,586.70v-32.76M355.10,586.70v-41.22M359.23,586.70v-41.22M359.23,586.70v-39.55M363.35,586.70v-41.86M367.48,586.70v-56.28M371.60,586.70v-68.52M375.73,586.70v-74.42M379.85,586.70v-81.66M383.98,586.70v-90.89M388.10,586.70v-101.79M392.23,586.70v-108.26M396.35,586.70v-118.52M400.48,586.70v-125.89M404.60,586.70v-135.64M408.73,586.70v-136.92M412.85,586.70v-143.07M416.98,586.70v-145.64M421.10,586.70v-157.49M425.23,586.70v-172.56M429.35,586.70v-193.26M433.48,586.70v-201.74M437.60,586.70v-203.84M441.73,586.70v-203.84M441.73,586.70v-194.71M445.85,586.70v-194.71M445.85,586.70v-183.84M449.98,586.70v-183.84M449.98,586.70v-171.66M454.10,586.70v-171.66M454.10,586.70v-165.19M458.23,586.70v-165.19M458.23,586.70v-155.31M462.35,586.70v-156.21M466.48,586.70v-158.13M470.60,586.70v-159.80M474.73,586.70v-159.80M474.73,586.70v-150.06M478.85,586.70v-150.06M478.85,586.70v-130.38M482.98,586.70v-130.38M482.98,586.70v-107.24M487.10,586.70v-107.24M487.10,586.70v-90.89M491.23,586.70v-90.89M491.23,586.70v-80.64M495.35,586.70v-80.64M495.35,586.70v-73.52M499.48,586.70v-73.52M499.48,586.70v-70.32M503.60,586.70v-70.32M503.60,586.70v-67.56M507.73,586.70v-67.56M507.73,586.70v-61.15M511.85,586.70v-61.15M511.85,586.70v-56.28M515.98,586.70v-56.28M515.98,586.70v-52.18M520.10,586.70v-52.18M520.10,586.70v-43.65M524.23,586.70v-43.65M524.23,586.70v-34.68M528.35,586.70v-34.68M528.35,586.70v-27.37M532.48,586.70v-27.37M532.48,586.70v-19.61M536.60,586.70v-19.61M536.60,586.70v-13.20M540.73,586.70v-13.20M540.73,586.70v-8.33M544.85,586.70v-8.33M544.85,586.70v-5.51M548.98,586.70v-5.51M548.98,586.70v-3.21M553.10,586.70v-3.21M553.10,586.70v-1.60M557.23,586.70v-1.60M557.23,586.70v-0.96M561.35,586.70v-0.96M561.35,586.70v-0.64M565.48,586.70v-0.64M565.48,586.70v-0.45M569.60,586.70v-0.45M569.60,586.70v-0.32M573.73,586.70v-0.32M573.73,586.70v-0.21M577.85,586.70v-0.21" stroke="#000" stroke-width="0.85" stroke-opacity="0.95" fill="none"/>
<path d="M329.6,373.3V596.65H579.5" stroke="#4a4a4a" stroke-width="0.9" fill="none"/>
<text x="319.90000000000003" y="589.7" font-size="10.2" text-anchor="end" fill="#444" textLength="6.2" lengthAdjust="spacingAndGlyphs">0</text>
<text x="319.90000000000003" y="525.4000000000001" font-size="10.2" text-anchor="end" fill="#444" textLength="6.2" lengthAdjust="spacingAndGlyphs">1</text>
<text x="319.90000000000003" y="461.1" font-size="10.2" text-anchor="end" fill="#444" textLength="6.2" lengthAdjust="spacingAndGlyphs">2</text>
<text x="319.90000000000003" y="396.80000000000007" font-size="10.2" text-anchor="end" fill="#444" textLength="6.2" lengthAdjust="spacingAndGlyphs">3</text>
<text x="340.36250000000007" y="615.3" font-size="10.2" text-anchor="middle" fill="#444" textLength="6.2" lengthAdjust="spacingAndGlyphs">0</text>
<text x="422.86250000000007" y="615.3" font-size="10.2" text-anchor="middle" fill="#444" textLength="12.2" lengthAdjust="spacingAndGlyphs">20</text>
<text x="505.36250000000007" y="615.3" font-size="10.2" text-anchor="middle" fill="#444" textLength="12.2" lengthAdjust="spacingAndGlyphs">40</text>
<path d="M324.40000000000003,586.20H329.6M324.40000000000003,521.90H329.6M324.40000000000003,457.60H329.6M324.40000000000003,393.30H329.6M340.76,596.65V601.9M423.26,596.65V601.9M505.76,596.65V601.9" stroke="#4a4a4a" stroke-width="0.9" fill="none"/>
<text x="-0.6" y="361.7" font-size="17.5" text-anchor="start" fill="#000" font-weight="bold" textLength="10.6" lengthAdjust="spacingAndGlyphs" stroke="#000" stroke-width="0.5">b</text>
<text x="307.6" y="361.9" font-size="17.5" text-anchor="start" fill="#000" font-weight="bold" textLength="9.6" lengthAdjust="spacingAndGlyphs" stroke="#000" stroke-width="0.5">c</text>
<text x="236" y="635.2" font-size="12.3" text-anchor="start" fill="#111" textLength="137.4" lengthAdjust="spacingAndGlyphs">Kimura substitution level</text>
<text transform="translate(9.6,549.4) rotate(-90)" font-size="12.2" fill="#111" textLength="130" lengthAdjust="spacingAndGlyphs">Per cent of the genome</text>
<rect x="598.3" y="349.4" width="15.1" height="249" fill="#3c3c3c"/>
<rect x="599.25" y="350.40" width="13.2" height="12.5" fill="#000004"/><text x="618.2" y="360.2" font-size="10.2" text-anchor="start" fill="#111" textLength="42.9" lengthAdjust="spacingAndGlyphs">DNA.DTA</text>
<rect x="599.25" y="364.25" width="13.2" height="12.5" fill="#0a0722"/><text x="618.2" y="374.05" font-size="10.2" text-anchor="start" fill="#111" textLength="43.7" lengthAdjust="spacingAndGlyphs">DNA.DTC</text>
<rect x="599.25" y="378.10" width="13.2" height="12.5" fill="#1e0c45"/><text x="618.2" y="387.9" font-size="10.2" text-anchor="start" fill="#111" textLength="43.3" lengthAdjust="spacingAndGlyphs">DNA.DTH</text>
<rect x="599.25" y="391.95" width="13.2" height="12.5" fill="#380962"/><text x="618.2" y="401.75" font-size="10.2" text-anchor="start" fill="#111" textLength="44.3" lengthAdjust="spacingAndGlyphs">DNA.DTM</text>
<rect x="599.25" y="405.80" width="13.2" height="12.5" fill="#510e6c"/><text x="618.2" y="415.59999999999997" font-size="10.2" text-anchor="start" fill="#111" textLength="41.9" lengthAdjust="spacingAndGlyphs">DNA.DTT</text>
<rect x="599.25" y="419.65" width="13.2" height="12.5" fill="#69166e"/><text x="618.2" y="429.45" font-size="10.2" text-anchor="start" fill="#111" textLength="61.3" lengthAdjust="spacingAndGlyphs">DNA.Helitron</text>
<rect x="599.25" y="433.50" width="13.2" height="12.5" fill="#801f6c"/><text x="618.2" y="443.29999999999995" font-size="10.2" text-anchor="start" fill="#111" textLength="67.3" lengthAdjust="spacingAndGlyphs">LINE.unknown</text>
<rect x="599.25" y="447.35" width="13.2" height="12.5" fill="#982766"/><text x="618.2" y="457.15" font-size="10.2" text-anchor="start" fill="#111" textLength="47.8" lengthAdjust="spacingAndGlyphs">LTR.Copia</text>
<rect x="599.25" y="461.20" width="13.2" height="12.5" fill="#b0315b"/><text x="618.2" y="471.0" font-size="10.2" text-anchor="start" fill="#111" textLength="49.9" lengthAdjust="spacingAndGlyphs">LTR.Gypsy</text>
<rect x="599.25" y="475.05" width="13.2" height="12.5" fill="#c63d4d"/><text x="618.2" y="484.84999999999997" font-size="10.2" text-anchor="start" fill="#111" textLength="62.5" lengthAdjust="spacingAndGlyphs">LTR.unknown</text>
<rect x="599.25" y="488.90" width="13.2" height="12.5" fill="#d94d3d"/><text x="618.2" y="498.7" font-size="10.2" text-anchor="start" fill="#111" textLength="44.4" lengthAdjust="spacingAndGlyphs">MITE.DTA</text>
<rect x="599.25" y="502.75" width="13.2" height="12.5" fill="#e9612b"/><text x="618.2" y="512.55" font-size="10.2" text-anchor="start" fill="#111" textLength="45.5" lengthAdjust="spacingAndGlyphs">MITE.DTC</text>
<rect x="599.25" y="516.60" width="13.2" height="12.5" fill="#f47918"/><text x="618.2" y="526.4" font-size="10.2" text-anchor="start" fill="#111" textLength="44.9" lengthAdjust="spacingAndGlyphs">MITE.DTH</text>
<rect x="599.25" y="530.45" width="13.2" height="12.5" fill="#fa9407"/><text x="618.2" y="540.25" font-size="10.2" text-anchor="start" fill="#111" textLength="46.6" lengthAdjust="spacingAndGlyphs">MITE.DTM</text>
<rect x="599.25" y="544.30" width="13.2" height="12.5" fill="#fcb014"/><text x="618.2" y="554.1" font-size="10.2" text-anchor="start" fill="#111" textLength="43.3" lengthAdjust="spacingAndGlyphs">MITE.DTT</text>
<rect x="599.25" y="558.15" width="13.2" height="12.5" fill="#f8cd37"/><text x="618.2" y="567.9499999999999" font-size="10.2" text-anchor="start" fill="#111" textLength="44" lengthAdjust="spacingAndGlyphs">Unknown</text>
<rect x="599.25" y="572.00" width="13.2" height="12.5" fill="#f2ea69"/><text x="618.2" y="581.8" font-size="10.2" text-anchor="start" fill="#111" textLength="65.2" lengthAdjust="spacingAndGlyphs">Pararetrovirus</text>
<rect x="599.25" y="585.85" width="13.2" height="12.5" fill="#fcffa4"/><text x="618.2" y="595.65" font-size="10.2" text-anchor="start" fill="#111" textLength="38.3" lengthAdjust="spacingAndGlyphs">Polinton</text>

</svg>
</body></html>
